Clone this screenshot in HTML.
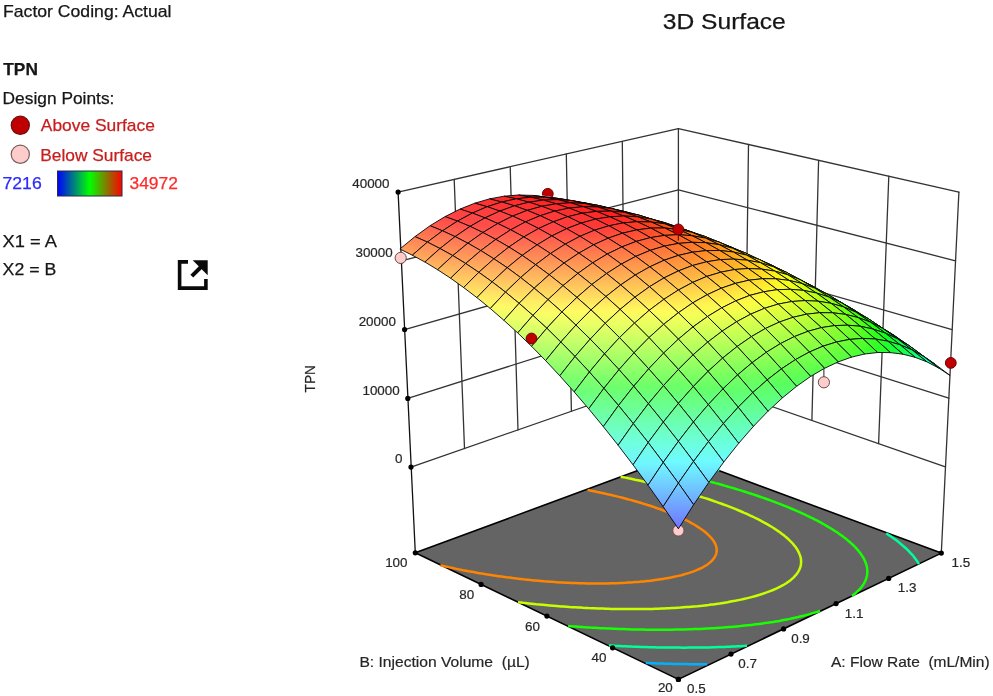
<!DOCTYPE html>
<html><head><meta charset="utf-8"><title>3D Surface</title>
<style>
html,body{margin:0;padding:0;background:#fff;}
body{width:993px;height:696px;position:relative;overflow:hidden;}
svg{position:absolute;left:0;top:0;display:block;}
text{font-family:"Liberation Sans",sans-serif;fill:#161616;white-space:pre;stroke:#161616;stroke-width:.25px;}
.lg{font-size:17px;}
.tk{font-size:13.4px;fill:#262626;stroke:#262626;stroke-width:.2px;}
.ax{font-size:15px;fill:#262626;stroke:#262626;stroke-width:.2px;}
</style></head><body>
<svg width="993" height="696" viewBox="0 0 993 696">
<defs><linearGradient id="lgd" x1="0" x2="1" y1="0" y2="0"><stop offset="0" stop-color="#0000ff"/><stop offset=".5" stop-color="#00ff00"/><stop offset="1" stop-color="#ff0000"/></linearGradient>
<linearGradient id="c1" gradientUnits="userSpaceOnUse" x1="677.0" y1="290.0" x2="679.6" y2="273.9"><stop offset="0" stop-color="#00fffe"/><stop offset="0.5" stop-color="#00ffb7"/><stop offset="1" stop-color="#00ff70"/></linearGradient>
<linearGradient id="c2" gradientUnits="userSpaceOnUse" x1="664.8" y1="275.2" x2="667.2" y2="260.5"><stop offset="0" stop-color="#00ff90"/><stop offset="0.5" stop-color="#00ff4e"/><stop offset="1" stop-color="#00ff0c"/></linearGradient>
<linearGradient id="c3" gradientUnits="userSpaceOnUse" x1="689.3" y1="288.0" x2="692.0" y2="272.8"><stop offset="0" stop-color="#00ffdc"/><stop offset="0.5" stop-color="#00ff98"/><stop offset="1" stop-color="#00ff54"/></linearGradient>
<linearGradient id="c4" gradientUnits="userSpaceOnUse" x1="652.4" y1="261.5" x2="654.5" y2="248.2"><stop offset="0" stop-color="#00ff2a"/><stop offset="0.5" stop-color="#13ff00"/><stop offset="1" stop-color="#4fff00"/></linearGradient>
<linearGradient id="c5" gradientUnits="userSpaceOnUse" x1="677.2" y1="273.5" x2="679.5" y2="259.7"><stop offset="0" stop-color="#00ff70"/><stop offset="0.5" stop-color="#00ff31"/><stop offset="1" stop-color="#0dff00"/></linearGradient>
<linearGradient id="c6" gradientUnits="userSpaceOnUse" x1="701.8" y1="286.7" x2="704.4" y2="272.3"><stop offset="0" stop-color="#00ffbe"/><stop offset="0.5" stop-color="#00ff7d"/><stop offset="1" stop-color="#00ff3c"/></linearGradient>
<linearGradient id="c7" gradientUnits="userSpaceOnUse" x1="639.8" y1="249.0" x2="641.6" y2="237.2"><stop offset="0" stop-color="#34ff00"/><stop offset="0.5" stop-color="#6cff00"/><stop offset="1" stop-color="#a3ff00"/></linearGradient>
<linearGradient id="c8" gradientUnits="userSpaceOnUse" x1="664.8" y1="260.1" x2="666.8" y2="247.7"><stop offset="0" stop-color="#00ff0c"/><stop offset="0.5" stop-color="#2dff00"/><stop offset="1" stop-color="#67ff00"/></linearGradient>
<linearGradient id="c9" gradientUnits="userSpaceOnUse" x1="689.7" y1="272.4" x2="692.0" y2="259.5"><stop offset="0" stop-color="#00ff54"/><stop offset="0.5" stop-color="#00ff18"/><stop offset="1" stop-color="#24ff00"/></linearGradient>
<linearGradient id="c10" gradientUnits="userSpaceOnUse" x1="714.4" y1="285.9" x2="717.0" y2="272.4"><stop offset="0" stop-color="#00ffa3"/><stop offset="0.5" stop-color="#00ff65"/><stop offset="1" stop-color="#00ff27"/></linearGradient>
<linearGradient id="c11" gradientUnits="userSpaceOnUse" x1="627.0" y1="237.6" x2="628.5" y2="227.4"><stop offset="0" stop-color="#8aff00"/><stop offset="0.5" stop-color="#bcff00"/><stop offset="1" stop-color="#eeff00"/></linearGradient>
<linearGradient id="c12" gradientUnits="userSpaceOnUse" x1="652.2" y1="247.8" x2="654.0" y2="237.0"><stop offset="0" stop-color="#4fff00"/><stop offset="0.5" stop-color="#84ff00"/><stop offset="1" stop-color="#b8ff00"/></linearGradient>
<linearGradient id="c13" gradientUnits="userSpaceOnUse" x1="677.3" y1="259.3" x2="679.4" y2="247.8"><stop offset="0" stop-color="#0dff00"/><stop offset="0.5" stop-color="#44ff00"/><stop offset="1" stop-color="#7bff00"/></linearGradient>
<linearGradient id="c14" gradientUnits="userSpaceOnUse" x1="702.3" y1="271.9" x2="704.6" y2="259.9"><stop offset="0" stop-color="#00ff3c"/><stop offset="0.5" stop-color="#00ff03"/><stop offset="1" stop-color="#36ff00"/></linearGradient>
<linearGradient id="c15" gradientUnits="userSpaceOnUse" x1="727.2" y1="285.7" x2="729.8" y2="273.2"><stop offset="0" stop-color="#00ff8d"/><stop offset="0.5" stop-color="#00ff51"/><stop offset="1" stop-color="#00ff16"/></linearGradient>
<linearGradient id="c16" gradientUnits="userSpaceOnUse" x1="613.9" y1="227.6" x2="615.2" y2="218.9"><stop offset="0" stop-color="#d8ff00"/><stop offset="0.5" stop-color="#fff900"/><stop offset="1" stop-color="#ffcc00"/></linearGradient>
<linearGradient id="c17" gradientUnits="userSpaceOnUse" x1="639.4" y1="236.8" x2="640.9" y2="227.5"><stop offset="0" stop-color="#a3ff00"/><stop offset="0.5" stop-color="#d2ff00"/><stop offset="1" stop-color="#fffc00"/></linearGradient>
<linearGradient id="c18" gradientUnits="userSpaceOnUse" x1="664.8" y1="247.3" x2="666.5" y2="237.4"><stop offset="0" stop-color="#67ff00"/><stop offset="0.5" stop-color="#98ff00"/><stop offset="1" stop-color="#caff00"/></linearGradient>
<linearGradient id="c19" gradientUnits="userSpaceOnUse" x1="690.0" y1="259.1" x2="692.0" y2="248.6"><stop offset="0" stop-color="#24ff00"/><stop offset="0.5" stop-color="#57ff00"/><stop offset="1" stop-color="#8bff00"/></linearGradient>
<linearGradient id="c20" gradientUnits="userSpaceOnUse" x1="715.2" y1="272.1" x2="717.4" y2="261.0"><stop offset="0" stop-color="#00ff27"/><stop offset="0.5" stop-color="#0fff00"/><stop offset="1" stop-color="#45ff00"/></linearGradient>
<linearGradient id="c21" gradientUnits="userSpaceOnUse" x1="740.2" y1="286.2" x2="742.7" y2="274.6"><stop offset="0" stop-color="#00ff79"/><stop offset="0.5" stop-color="#00ff41"/><stop offset="1" stop-color="#00ff09"/></linearGradient>
<linearGradient id="c22" gradientUnits="userSpaceOnUse" x1="600.7" y1="218.7" x2="601.7" y2="211.7"><stop offset="0" stop-color="#ffe100"/><stop offset="0.5" stop-color="#ffb900"/><stop offset="1" stop-color="#ff9100"/></linearGradient>
<linearGradient id="c23" gradientUnits="userSpaceOnUse" x1="626.4" y1="227.1" x2="627.6" y2="219.4"><stop offset="0" stop-color="#eeff00"/><stop offset="0.5" stop-color="#ffe500"/><stop offset="1" stop-color="#ffbb00"/></linearGradient>
<linearGradient id="c24" gradientUnits="userSpaceOnUse" x1="652.0" y1="236.6" x2="653.4" y2="228.3"><stop offset="0" stop-color="#b8ff00"/><stop offset="0.5" stop-color="#e5ff00"/><stop offset="1" stop-color="#ffed00"/></linearGradient>
<linearGradient id="c25" gradientUnits="userSpaceOnUse" x1="677.5" y1="247.5" x2="679.2" y2="238.5"><stop offset="0" stop-color="#7bff00"/><stop offset="0.5" stop-color="#a9ff00"/><stop offset="1" stop-color="#d8ff00"/></linearGradient>
<linearGradient id="c26" gradientUnits="userSpaceOnUse" x1="702.9" y1="259.5" x2="704.8" y2="250.0"><stop offset="0" stop-color="#36ff00"/><stop offset="0.5" stop-color="#67ff00"/><stop offset="1" stop-color="#98ff00"/></linearGradient>
<linearGradient id="c27" gradientUnits="userSpaceOnUse" x1="728.1" y1="272.8" x2="730.4" y2="262.7"><stop offset="0" stop-color="#00ff16"/><stop offset="0.5" stop-color="#1dff00"/><stop offset="1" stop-color="#50ff00"/></linearGradient>
<linearGradient id="c28" gradientUnits="userSpaceOnUse" x1="753.3" y1="287.3" x2="755.7" y2="276.6"><stop offset="0" stop-color="#00ff6a"/><stop offset="0.5" stop-color="#00ff34"/><stop offset="1" stop-color="#01ff00"/></linearGradient>
<linearGradient id="c29" gradientUnits="userSpaceOnUse" x1="587.3" y1="211.3" x2="588.0" y2="206.0"><stop offset="0" stop-color="#ffa300"/><stop offset="0.5" stop-color="#ff8100"/><stop offset="1" stop-color="#ff5e00"/></linearGradient>
<linearGradient id="c30" gradientUnits="userSpaceOnUse" x1="613.2" y1="218.6" x2="614.1" y2="212.6"><stop offset="0" stop-color="#ffcc00"/><stop offset="0.5" stop-color="#ffa700"/><stop offset="1" stop-color="#ff8300"/></linearGradient>
<linearGradient id="c31" gradientUnits="userSpaceOnUse" x1="639.0" y1="227.2" x2="640.2" y2="220.5"><stop offset="0" stop-color="#fffc00"/><stop offset="0.5" stop-color="#ffd500"/><stop offset="1" stop-color="#ffae00"/></linearGradient>
<linearGradient id="c32" gradientUnits="userSpaceOnUse" x1="664.7" y1="237.1" x2="666.2" y2="229.8"><stop offset="0" stop-color="#caff00"/><stop offset="0.5" stop-color="#f3ff00"/><stop offset="1" stop-color="#ffe100"/></linearGradient>
<linearGradient id="c33" gradientUnits="userSpaceOnUse" x1="690.4" y1="248.2" x2="692.0" y2="240.3"><stop offset="0" stop-color="#8bff00"/><stop offset="0.5" stop-color="#b7ff00"/><stop offset="1" stop-color="#e2ff00"/></linearGradient>
<linearGradient id="c34" gradientUnits="userSpaceOnUse" x1="715.9" y1="260.6" x2="717.8" y2="252.1"><stop offset="0" stop-color="#45ff00"/><stop offset="0.5" stop-color="#73ff00"/><stop offset="1" stop-color="#a0ff00"/></linearGradient>
<linearGradient id="c35" gradientUnits="userSpaceOnUse" x1="741.3" y1="274.3" x2="743.4" y2="265.1"><stop offset="0" stop-color="#00ff09"/><stop offset="0.5" stop-color="#27ff00"/><stop offset="1" stop-color="#57ff00"/></linearGradient>
<linearGradient id="c36" gradientUnits="userSpaceOnUse" x1="766.5" y1="289.1" x2="768.9" y2="279.4"><stop offset="0" stop-color="#00ff5e"/><stop offset="0.5" stop-color="#00ff2b"/><stop offset="1" stop-color="#07ff00"/></linearGradient>
<linearGradient id="c37" gradientUnits="userSpaceOnUse" x1="573.7" y1="205.1" x2="574.2" y2="201.6"><stop offset="0" stop-color="#ff6e00"/><stop offset="0.5" stop-color="#ff5100"/><stop offset="1" stop-color="#ff3300"/></linearGradient>
<linearGradient id="c38" gradientUnits="userSpaceOnUse" x1="599.8" y1="211.4" x2="600.5" y2="207.2"><stop offset="0" stop-color="#ff9100"/><stop offset="0.5" stop-color="#ff7100"/><stop offset="1" stop-color="#ff5200"/></linearGradient>
<linearGradient id="c39" gradientUnits="userSpaceOnUse" x1="625.8" y1="219.1" x2="626.7" y2="214.1"><stop offset="0" stop-color="#ffbb00"/><stop offset="0.5" stop-color="#ff9a00"/><stop offset="1" stop-color="#ff7800"/></linearGradient>
<linearGradient id="c40" gradientUnits="userSpaceOnUse" x1="651.8" y1="228.0" x2="652.9" y2="222.4"><stop offset="0" stop-color="#ffed00"/><stop offset="0.5" stop-color="#ffc900"/><stop offset="1" stop-color="#ffa500"/></linearGradient>
<linearGradient id="c41" gradientUnits="userSpaceOnUse" x1="677.7" y1="238.2" x2="679.0" y2="231.9"><stop offset="0" stop-color="#d8ff00"/><stop offset="0.5" stop-color="#feff00"/><stop offset="1" stop-color="#ffd900"/></linearGradient>
<linearGradient id="c42" gradientUnits="userSpaceOnUse" x1="703.4" y1="249.7" x2="705.0" y2="242.7"><stop offset="0" stop-color="#98ff00"/><stop offset="0.5" stop-color="#c0ff00"/><stop offset="1" stop-color="#e9ff00"/></linearGradient>
<linearGradient id="c43" gradientUnits="userSpaceOnUse" x1="729.1" y1="262.4" x2="730.9" y2="254.8"><stop offset="0" stop-color="#50ff00"/><stop offset="0.5" stop-color="#7bff00"/><stop offset="1" stop-color="#a6ff00"/></linearGradient>
<linearGradient id="c44" gradientUnits="userSpaceOnUse" x1="754.6" y1="276.3" x2="756.7" y2="268.2"><stop offset="0" stop-color="#01ff00"/><stop offset="0.5" stop-color="#2eff00"/><stop offset="1" stop-color="#5bff00"/></linearGradient>
<linearGradient id="c45" gradientUnits="userSpaceOnUse" x1="779.9" y1="291.5" x2="782.3" y2="282.7"><stop offset="0" stop-color="#00ff55"/><stop offset="0.5" stop-color="#00ff26"/><stop offset="1" stop-color="#0aff00"/></linearGradient>
<linearGradient id="c46" gradientUnits="userSpaceOnUse" x1="559.9" y1="200.4" x2="560.2" y2="198.6"><stop offset="0" stop-color="#ff4201"/><stop offset="0.5" stop-color="#ff2901"/><stop offset="1" stop-color="#ff1101"/></linearGradient>
<linearGradient id="c47" gradientUnits="userSpaceOnUse" x1="586.2" y1="205.7" x2="586.6" y2="203.2"><stop offset="0" stop-color="#ff5e00"/><stop offset="0.5" stop-color="#ff4400"/><stop offset="1" stop-color="#ff2900"/></linearGradient>
<linearGradient id="c48" gradientUnits="userSpaceOnUse" x1="612.5" y1="212.3" x2="613.1" y2="209.1"><stop offset="0" stop-color="#ff8300"/><stop offset="0.5" stop-color="#ff6600"/><stop offset="1" stop-color="#ff4900"/></linearGradient>
<linearGradient id="c49" gradientUnits="userSpaceOnUse" x1="638.7" y1="220.2" x2="639.4" y2="216.3"><stop offset="0" stop-color="#ffae00"/><stop offset="0.5" stop-color="#ff8f00"/><stop offset="1" stop-color="#ff7000"/></linearGradient>
<linearGradient id="c50" gradientUnits="userSpaceOnUse" x1="664.8" y1="229.5" x2="665.8" y2="224.9"><stop offset="0" stop-color="#ffe100"/><stop offset="0.5" stop-color="#ffc000"/><stop offset="1" stop-color="#ff9f00"/></linearGradient>
<linearGradient id="c51" gradientUnits="userSpaceOnUse" x1="690.8" y1="240.0" x2="692.0" y2="234.7"><stop offset="0" stop-color="#e2ff00"/><stop offset="0.5" stop-color="#fff800"/><stop offset="1" stop-color="#ffd500"/></linearGradient>
<linearGradient id="c52" gradientUnits="userSpaceOnUse" x1="716.7" y1="251.8" x2="718.2" y2="245.9"><stop offset="0" stop-color="#a0ff00"/><stop offset="0.5" stop-color="#c6ff00"/><stop offset="1" stop-color="#ecff00"/></linearGradient>
<linearGradient id="c53" gradientUnits="userSpaceOnUse" x1="742.4" y1="264.8" x2="744.2" y2="258.3"><stop offset="0" stop-color="#57ff00"/><stop offset="0.5" stop-color="#7fff00"/><stop offset="1" stop-color="#a7ff00"/></linearGradient>
<linearGradient id="c54" gradientUnits="userSpaceOnUse" x1="768.0" y1="279.1" x2="770.0" y2="271.9"><stop offset="0" stop-color="#07ff00"/><stop offset="0.5" stop-color="#31ff00"/><stop offset="1" stop-color="#5cff00"/></linearGradient>
<linearGradient id="c55" gradientUnits="userSpaceOnUse" x1="793.5" y1="294.6" x2="795.8" y2="286.7"><stop offset="0" stop-color="#00ff51"/><stop offset="0.5" stop-color="#00ff23"/><stop offset="1" stop-color="#0aff00"/></linearGradient>
<linearGradient id="c56" gradientUnits="userSpaceOnUse" x1="546.1" y1="196.6" x2="545.9" y2="197.6"><stop offset="0" stop-color="#ff250a"/><stop offset="0.5" stop-color="#ff130a"/><stop offset="1" stop-color="#ff0a0a"/></linearGradient>
<linearGradient id="c57" gradientUnits="userSpaceOnUse" x1="572.5" y1="201.4" x2="572.6" y2="200.6"><stop offset="0" stop-color="#ff3705"/><stop offset="0.5" stop-color="#ff2205"/><stop offset="1" stop-color="#ff0d05"/></linearGradient>
<linearGradient id="c58" gradientUnits="userSpaceOnUse" x1="598.9" y1="206.9" x2="599.2" y2="205.5"><stop offset="0" stop-color="#ff5200"/><stop offset="0.5" stop-color="#ff3a00"/><stop offset="1" stop-color="#ff2300"/></linearGradient>
<linearGradient id="c59" gradientUnits="userSpaceOnUse" x1="625.3" y1="213.9" x2="625.8" y2="211.7"><stop offset="0" stop-color="#ff7800"/><stop offset="0.5" stop-color="#ff5e00"/><stop offset="1" stop-color="#ff4400"/></linearGradient>
<linearGradient id="c60" gradientUnits="userSpaceOnUse" x1="651.7" y1="222.1" x2="652.3" y2="219.2"><stop offset="0" stop-color="#ffa500"/><stop offset="0.5" stop-color="#ff8900"/><stop offset="1" stop-color="#ff6d00"/></linearGradient>
<linearGradient id="c61" gradientUnits="userSpaceOnUse" x1="677.9" y1="231.6" x2="678.8" y2="228.1"><stop offset="0" stop-color="#ffd900"/><stop offset="0.5" stop-color="#ffbb00"/><stop offset="1" stop-color="#ff9d00"/></linearGradient>
<linearGradient id="c62" gradientUnits="userSpaceOnUse" x1="704.0" y1="242.5" x2="705.2" y2="238.2"><stop offset="0" stop-color="#e9ff00"/><stop offset="0.5" stop-color="#fff500"/><stop offset="1" stop-color="#ffd400"/></linearGradient>
<linearGradient id="c63" gradientUnits="userSpaceOnUse" x1="730.1" y1="254.6" x2="731.4" y2="249.6"><stop offset="0" stop-color="#a6ff00"/><stop offset="0.5" stop-color="#c9ff00"/><stop offset="1" stop-color="#ecff00"/></linearGradient>
<linearGradient id="c64" gradientUnits="userSpaceOnUse" x1="755.9" y1="268.0" x2="757.6" y2="262.2"><stop offset="0" stop-color="#5bff00"/><stop offset="0.5" stop-color="#81ff00"/><stop offset="1" stop-color="#a7ff00"/></linearGradient>
<linearGradient id="c65" gradientUnits="userSpaceOnUse" x1="781.6" y1="282.7" x2="783.6" y2="276.1"><stop offset="0" stop-color="#08ff00"/><stop offset="0.5" stop-color="#32ff00"/><stop offset="1" stop-color="#5cff00"/></linearGradient>
<linearGradient id="c66" gradientUnits="userSpaceOnUse" x1="807.1" y1="298.6" x2="809.4" y2="291.2"><stop offset="0" stop-color="#00ff52"/><stop offset="0.5" stop-color="#00ff25"/><stop offset="1" stop-color="#08ff00"/></linearGradient>
<linearGradient id="c67" gradientUnits="userSpaceOnUse" x1="531.9" y1="195.1" x2="531.7" y2="197.2"><stop offset="0" stop-color="#ff1414"/><stop offset="0.5" stop-color="#ff1414"/><stop offset="1" stop-color="#ff1414"/></linearGradient>
<linearGradient id="c68" gradientUnits="userSpaceOnUse" x1="558.6" y1="198.3" x2="558.4" y2="199.6"><stop offset="0" stop-color="#ff1e0e"/><stop offset="0.5" stop-color="#ff0f0e"/><stop offset="1" stop-color="#ff0e0e"/></linearGradient>
<linearGradient id="c69" gradientUnits="userSpaceOnUse" x1="585.3" y1="202.8" x2="585.1" y2="203.5"><stop offset="0" stop-color="#ff3109"/><stop offset="0.5" stop-color="#ff1f09"/><stop offset="1" stop-color="#ff0d09"/></linearGradient>
<linearGradient id="c70" gradientUnits="userSpaceOnUse" x1="611.8" y1="209.0" x2="611.9" y2="208.4"><stop offset="0" stop-color="#ff4c04"/><stop offset="0.5" stop-color="#ff3704"/><stop offset="1" stop-color="#ff2304"/></linearGradient>
<linearGradient id="c71" gradientUnits="userSpaceOnUse" x1="638.4" y1="216.1" x2="638.7" y2="215.0"><stop offset="0" stop-color="#ff7000"/><stop offset="0.5" stop-color="#ff5a00"/><stop offset="1" stop-color="#ff4300"/></linearGradient>
<linearGradient id="c72" gradientUnits="userSpaceOnUse" x1="664.9" y1="224.7" x2="665.3" y2="222.8"><stop offset="0" stop-color="#ff9f00"/><stop offset="0.5" stop-color="#ff8600"/><stop offset="1" stop-color="#ff6d00"/></linearGradient>
<linearGradient id="c73" gradientUnits="userSpaceOnUse" x1="691.2" y1="234.5" x2="692.0" y2="231.9"><stop offset="0" stop-color="#ffd500"/><stop offset="0.5" stop-color="#ffb900"/><stop offset="1" stop-color="#ff9d00"/></linearGradient>
<linearGradient id="c74" gradientUnits="userSpaceOnUse" x1="717.5" y1="245.7" x2="718.5" y2="242.3"><stop offset="0" stop-color="#ebff00"/><stop offset="0.5" stop-color="#fff300"/><stop offset="1" stop-color="#ffd400"/></linearGradient>
<linearGradient id="c75" gradientUnits="userSpaceOnUse" x1="743.6" y1="258.2" x2="744.9" y2="253.9"><stop offset="0" stop-color="#a5ff00"/><stop offset="0.5" stop-color="#c8ff00"/><stop offset="1" stop-color="#ebff00"/></linearGradient>
<linearGradient id="c76" gradientUnits="userSpaceOnUse" x1="769.5" y1="272.0" x2="771.2" y2="266.8"><stop offset="0" stop-color="#58ff00"/><stop offset="0.5" stop-color="#7fff00"/><stop offset="1" stop-color="#a5ff00"/></linearGradient>
<linearGradient id="c77" gradientUnits="userSpaceOnUse" x1="795.3" y1="287.1" x2="797.3" y2="281.0"><stop offset="0" stop-color="#04ff00"/><stop offset="0.5" stop-color="#2eff00"/><stop offset="1" stop-color="#58ff00"/></linearGradient>
<linearGradient id="c78" gradientUnits="userSpaceOnUse" x1="820.9" y1="303.3" x2="823.3" y2="296.4"><stop offset="0" stop-color="#00ff58"/><stop offset="0.5" stop-color="#00ff2a"/><stop offset="1" stop-color="#04ff00"/></linearGradient>
<linearGradient id="c79" gradientUnits="userSpaceOnUse" x1="517.6" y1="194.7" x2="517.3" y2="198.7"><stop offset="0" stop-color="#ff1e1e"/><stop offset="0.5" stop-color="#ff1e1e"/><stop offset="1" stop-color="#ff1e1e"/></linearGradient>
<linearGradient id="c80" gradientUnits="userSpaceOnUse" x1="544.6" y1="196.8" x2="544.0" y2="200.1"><stop offset="0" stop-color="#ff1818"/><stop offset="0.5" stop-color="#ff1818"/><stop offset="1" stop-color="#ff1818"/></linearGradient>
<linearGradient id="c81" gradientUnits="userSpaceOnUse" x1="571.4" y1="200.4" x2="570.9" y2="202.8"><stop offset="0" stop-color="#ff1a12"/><stop offset="0.5" stop-color="#ff1212"/><stop offset="1" stop-color="#ff1212"/></linearGradient>
<linearGradient id="c82" gradientUnits="userSpaceOnUse" x1="598.2" y1="205.2" x2="597.8" y2="206.8"><stop offset="0" stop-color="#ff2e0d"/><stop offset="0.5" stop-color="#ff1f0d"/><stop offset="1" stop-color="#ff110d"/></linearGradient>
<linearGradient id="c83" gradientUnits="userSpaceOnUse" x1="625.0" y1="211.4" x2="624.7" y2="212.3"><stop offset="0" stop-color="#ff4a08"/><stop offset="0.5" stop-color="#ff3808"/><stop offset="1" stop-color="#ff2708"/></linearGradient>
<linearGradient id="c84" gradientUnits="userSpaceOnUse" x1="651.4" y1="220.1" x2="651.9" y2="217.9"><stop offset="0" stop-color="#ff6e03"/><stop offset="0.5" stop-color="#ff5903"/><stop offset="1" stop-color="#ff4503"/></linearGradient>
<linearGradient id="c85" gradientUnits="userSpaceOnUse" x1="678.2" y1="228.0" x2="678.5" y2="227.0"><stop offset="0" stop-color="#ff9e00"/><stop offset="0.5" stop-color="#ff8500"/><stop offset="1" stop-color="#ff6d00"/></linearGradient>
<linearGradient id="c86" gradientUnits="userSpaceOnUse" x1="704.7" y1="238.2" x2="705.3" y2="236.4"><stop offset="0" stop-color="#ffd700"/><stop offset="0.5" stop-color="#ffba00"/><stop offset="1" stop-color="#ff9e00"/></linearGradient>
<linearGradient id="c87" gradientUnits="userSpaceOnUse" x1="731.0" y1="249.7" x2="731.9" y2="247.1"><stop offset="0" stop-color="#e7ff00"/><stop offset="0.5" stop-color="#fff700"/><stop offset="1" stop-color="#ffd700"/></linearGradient>
<linearGradient id="c88" gradientUnits="userSpaceOnUse" x1="757.2" y1="262.6" x2="758.5" y2="259.0"><stop offset="0" stop-color="#a0ff00"/><stop offset="0.5" stop-color="#c4ff00"/><stop offset="1" stop-color="#e7ff00"/></linearGradient>
<linearGradient id="c89" gradientUnits="userSpaceOnUse" x1="783.3" y1="276.7" x2="784.9" y2="272.2"><stop offset="0" stop-color="#51ff00"/><stop offset="0.5" stop-color="#79ff00"/><stop offset="1" stop-color="#a0ff00"/></linearGradient>
<linearGradient id="c90" gradientUnits="userSpaceOnUse" x1="809.2" y1="292.1" x2="811.1" y2="286.7"><stop offset="0" stop-color="#00ff05"/><stop offset="0.5" stop-color="#26ff00"/><stop offset="1" stop-color="#51ff00"/></linearGradient>
<linearGradient id="c91" gradientUnits="userSpaceOnUse" x1="834.8" y1="308.7" x2="837.2" y2="302.4"><stop offset="0" stop-color="#00ff62"/><stop offset="0.5" stop-color="#00ff33"/><stop offset="1" stop-color="#00ff05"/></linearGradient>
<linearGradient id="c92" gradientUnits="userSpaceOnUse" x1="502.9" y1="195.6" x2="503.0" y2="201.4"><stop offset="0" stop-color="#ff2727"/><stop offset="0.5" stop-color="#ff2727"/><stop offset="1" stop-color="#ff2727"/></linearGradient>
<linearGradient id="c93" gradientUnits="userSpaceOnUse" x1="530.4" y1="196.7" x2="529.5" y2="201.9"><stop offset="0" stop-color="#ff2222"/><stop offset="0.5" stop-color="#ff2222"/><stop offset="1" stop-color="#ff2222"/></linearGradient>
<linearGradient id="c94" gradientUnits="userSpaceOnUse" x1="557.5" y1="199.3" x2="556.4" y2="203.7"><stop offset="0" stop-color="#ff1c1c"/><stop offset="0.5" stop-color="#ff1c1c"/><stop offset="1" stop-color="#ff1c1c"/></linearGradient>
<linearGradient id="c95" gradientUnits="userSpaceOnUse" x1="584.5" y1="203.1" x2="583.4" y2="206.9"><stop offset="0" stop-color="#ff1b17"/><stop offset="0.5" stop-color="#ff1717"/><stop offset="1" stop-color="#ff1717"/></linearGradient>
<linearGradient id="c96" gradientUnits="userSpaceOnUse" x1="611.5" y1="208.2" x2="610.5" y2="211.2"><stop offset="0" stop-color="#ff3011"/><stop offset="0.5" stop-color="#ff2211"/><stop offset="1" stop-color="#ff1511"/></linearGradient>
<linearGradient id="c97" gradientUnits="userSpaceOnUse" x1="638.4" y1="214.7" x2="637.6" y2="216.9"><stop offset="0" stop-color="#ff4e0c"/><stop offset="0.5" stop-color="#ff3c0c"/><stop offset="1" stop-color="#ff2b0c"/></linearGradient>
<linearGradient id="c98" gradientUnits="userSpaceOnUse" x1="665.2" y1="222.6" x2="664.7" y2="223.9"><stop offset="0" stop-color="#ff7407"/><stop offset="0.5" stop-color="#ff5f07"/><stop offset="1" stop-color="#ff4a07"/></linearGradient>
<linearGradient id="c99" gradientUnits="userSpaceOnUse" x1="691.9" y1="231.7" x2="691.6" y2="232.4"><stop offset="0" stop-color="#ffa401"/><stop offset="0.5" stop-color="#ff8a01"/><stop offset="1" stop-color="#ff7101"/></linearGradient>
<linearGradient id="c100" gradientUnits="userSpaceOnUse" x1="718.4" y1="242.6" x2="718.7" y2="241.7"><stop offset="0" stop-color="#ffdd00"/><stop offset="0.5" stop-color="#ffc000"/><stop offset="1" stop-color="#ffa300"/></linearGradient>
<linearGradient id="c101" gradientUnits="userSpaceOnUse" x1="744.8" y1="254.4" x2="745.5" y2="252.7"><stop offset="0" stop-color="#dfff00"/><stop offset="0.5" stop-color="#fffe00"/><stop offset="1" stop-color="#ffdd00"/></linearGradient>
<linearGradient id="c102" gradientUnits="userSpaceOnUse" x1="771.1" y1="267.6" x2="772.2" y2="264.9"><stop offset="0" stop-color="#97ff00"/><stop offset="0.5" stop-color="#bbff00"/><stop offset="1" stop-color="#dfff00"/></linearGradient>
<linearGradient id="c103" gradientUnits="userSpaceOnUse" x1="797.2" y1="282.1" x2="798.7" y2="278.4"><stop offset="0" stop-color="#47ff00"/><stop offset="0.5" stop-color="#6fff00"/><stop offset="1" stop-color="#97ff00"/></linearGradient>
<linearGradient id="c104" gradientUnits="userSpaceOnUse" x1="823.2" y1="297.8" x2="825.0" y2="293.2"><stop offset="0" stop-color="#00ff11"/><stop offset="0.5" stop-color="#1bff00"/><stop offset="1" stop-color="#47ff00"/></linearGradient>
<linearGradient id="c105" gradientUnits="userSpaceOnUse" x1="848.9" y1="314.8" x2="851.2" y2="309.2"><stop offset="0" stop-color="#00ff6f"/><stop offset="0.5" stop-color="#00ff40"/><stop offset="1" stop-color="#00ff11"/></linearGradient>
<linearGradient id="c106" gradientUnits="userSpaceOnUse" x1="485.5" y1="207.8" x2="492.3" y2="195.4"><stop offset="0" stop-color="#ff3131"/><stop offset="0.5" stop-color="#ff3131"/><stop offset="1" stop-color="#ff3131"/></linearGradient>
<linearGradient id="c107" gradientUnits="userSpaceOnUse" x1="544.3" y1="199.3" x2="540.4" y2="208.1"><stop offset="0" stop-color="#ff2626"/><stop offset="0.5" stop-color="#ff2626"/><stop offset="1" stop-color="#ff2626"/></linearGradient>
<linearGradient id="c108" gradientUnits="userSpaceOnUse" x1="571.4" y1="201.8" x2="567.9" y2="209.5"><stop offset="0" stop-color="#ff2020"/><stop offset="0.5" stop-color="#ff2020"/><stop offset="1" stop-color="#ff2020"/></linearGradient>
<linearGradient id="c109" gradientUnits="userSpaceOnUse" x1="598.4" y1="205.9" x2="595.4" y2="212.5"><stop offset="0" stop-color="#ff211b"/><stop offset="0.5" stop-color="#ff1b1b"/><stop offset="1" stop-color="#ff1b1b"/></linearGradient>
<linearGradient id="c110" gradientUnits="userSpaceOnUse" x1="625.3" y1="211.4" x2="622.9" y2="216.8"><stop offset="0" stop-color="#ff3715"/><stop offset="0.5" stop-color="#ff2a15"/><stop offset="1" stop-color="#ff1c15"/></linearGradient>
<linearGradient id="c111" gradientUnits="userSpaceOnUse" x1="652.2" y1="218.4" x2="650.3" y2="222.6"><stop offset="0" stop-color="#ff5610"/><stop offset="0.5" stop-color="#ff4410"/><stop offset="1" stop-color="#ff3310"/></linearGradient>
<linearGradient id="c112" gradientUnits="userSpaceOnUse" x1="679.0" y1="226.7" x2="677.7" y2="229.7"><stop offset="0" stop-color="#ff7d0a"/><stop offset="0.5" stop-color="#ff680a"/><stop offset="1" stop-color="#ff520a"/></linearGradient>
<linearGradient id="c113" gradientUnits="userSpaceOnUse" x1="705.7" y1="236.3" x2="704.9" y2="238.2"><stop offset="0" stop-color="#ffae05"/><stop offset="0.5" stop-color="#ff9405"/><stop offset="1" stop-color="#ff7b05"/></linearGradient>
<linearGradient id="c114" gradientUnits="userSpaceOnUse" x1="732.4" y1="247.3" x2="732.0" y2="248.1"><stop offset="0" stop-color="#ffe700"/><stop offset="0.5" stop-color="#ffca00"/><stop offset="1" stop-color="#ffac00"/></linearGradient>
<linearGradient id="c115" gradientUnits="userSpaceOnUse" x1="758.8" y1="259.8" x2="759.1" y2="259.0"><stop offset="0" stop-color="#d4ff00"/><stop offset="0.5" stop-color="#f5ff00"/><stop offset="1" stop-color="#ffe700"/></linearGradient>
<linearGradient id="c116" gradientUnits="userSpaceOnUse" x1="785.2" y1="273.3" x2="785.9" y2="271.6"><stop offset="0" stop-color="#8aff00"/><stop offset="0.5" stop-color="#afff00"/><stop offset="1" stop-color="#d4ff00"/></linearGradient>
<linearGradient id="c117" gradientUnits="userSpaceOnUse" x1="811.4" y1="288.1" x2="812.6" y2="285.4"><stop offset="0" stop-color="#38ff00"/><stop offset="0.5" stop-color="#61ff00"/><stop offset="1" stop-color="#8aff00"/></linearGradient>
<linearGradient id="c118" gradientUnits="userSpaceOnUse" x1="837.4" y1="304.2" x2="839.1" y2="300.4"><stop offset="0" stop-color="#00ff20"/><stop offset="0.5" stop-color="#0cff00"/><stop offset="1" stop-color="#38ff00"/></linearGradient>
<linearGradient id="c119" gradientUnits="userSpaceOnUse" x1="863.2" y1="321.5" x2="865.3" y2="316.7"><stop offset="0" stop-color="#00ff81"/><stop offset="0.5" stop-color="#00ff51"/><stop offset="1" stop-color="#00ff20"/></linearGradient>
<linearGradient id="c120" gradientUnits="userSpaceOnUse" x1="472.2" y1="213.4" x2="474.8" y2="203.3"><stop offset="0" stop-color="#ff3a3a"/><stop offset="0.5" stop-color="#ff3a3a"/><stop offset="1" stop-color="#ff3a3a"/></linearGradient>
<linearGradient id="c121" gradientUnits="userSpaceOnUse" x1="500.1" y1="211.5" x2="501.4" y2="202.4"><stop offset="0" stop-color="#ff3535"/><stop offset="0.5" stop-color="#ff3535"/><stop offset="1" stop-color="#ff3535"/></linearGradient>
<linearGradient id="c122" gradientUnits="userSpaceOnUse" x1="528.7" y1="210.9" x2="527.8" y2="203.2"><stop offset="0" stop-color="#ff3030"/><stop offset="0.5" stop-color="#ff3030"/><stop offset="1" stop-color="#ff3030"/></linearGradient>
<linearGradient id="c123" gradientUnits="userSpaceOnUse" x1="566.4" y1="211.3" x2="541.7" y2="202.3"><stop offset="0" stop-color="#ff2a2a"/><stop offset="0.5" stop-color="#ff2a2a"/><stop offset="1" stop-color="#ff2a2a"/></linearGradient>
<linearGradient id="c124" gradientUnits="userSpaceOnUse" x1="590.4" y1="204.3" x2="574.2" y2="216.2"><stop offset="0" stop-color="#ff2525"/><stop offset="0.5" stop-color="#ff2525"/><stop offset="1" stop-color="#ff2525"/></linearGradient>
<linearGradient id="c125" gradientUnits="userSpaceOnUse" x1="614.5" y1="208.7" x2="605.5" y2="219.4"><stop offset="0" stop-color="#ff2b1f"/><stop offset="0.5" stop-color="#ff201f"/><stop offset="1" stop-color="#ff1f1f"/></linearGradient>
<linearGradient id="c126" gradientUnits="userSpaceOnUse" x1="640.4" y1="214.9" x2="634.4" y2="223.6"><stop offset="0" stop-color="#ff4219"/><stop offset="0.5" stop-color="#ff3419"/><stop offset="1" stop-color="#ff2619"/></linearGradient>
<linearGradient id="c127" gradientUnits="userSpaceOnUse" x1="666.8" y1="222.5" x2="662.6" y2="229.3"><stop offset="0" stop-color="#ff6214"/><stop offset="0.5" stop-color="#ff5014"/><stop offset="1" stop-color="#ff3e14"/></linearGradient>
<linearGradient id="c128" gradientUnits="userSpaceOnUse" x1="693.4" y1="231.3" x2="690.4" y2="236.5"><stop offset="0" stop-color="#ff8a0e"/><stop offset="0.5" stop-color="#ff740e"/><stop offset="1" stop-color="#ff5e0e"/></linearGradient>
<linearGradient id="c129" gradientUnits="userSpaceOnUse" x1="720.0" y1="241.4" x2="718.0" y2="245.1"><stop offset="0" stop-color="#ffbb09"/><stop offset="0.5" stop-color="#ffa109"/><stop offset="1" stop-color="#ff8709"/></linearGradient>
<linearGradient id="c130" gradientUnits="userSpaceOnUse" x1="746.6" y1="252.8" x2="745.4" y2="255.2"><stop offset="0" stop-color="#fff504"/><stop offset="0.5" stop-color="#ffd704"/><stop offset="1" stop-color="#ffb904"/></linearGradient>
<linearGradient id="c131" gradientUnits="userSpaceOnUse" x1="773.2" y1="265.5" x2="772.6" y2="266.6"><stop offset="0" stop-color="#c5ff00"/><stop offset="0.5" stop-color="#e7ff00"/><stop offset="1" stop-color="#fff500"/></linearGradient>
<linearGradient id="c132" gradientUnits="userSpaceOnUse" x1="799.4" y1="279.8" x2="799.8" y2="279.0"><stop offset="0" stop-color="#79ff00"/><stop offset="0.5" stop-color="#9fff00"/><stop offset="1" stop-color="#c5ff00"/></linearGradient>
<linearGradient id="c133" gradientUnits="userSpaceOnUse" x1="825.7" y1="294.8" x2="826.5" y2="293.2"><stop offset="0" stop-color="#26ff00"/><stop offset="0.5" stop-color="#50ff00"/><stop offset="1" stop-color="#79ff00"/></linearGradient>
<linearGradient id="c134" gradientUnits="userSpaceOnUse" x1="851.8" y1="311.3" x2="853.1" y2="308.5"><stop offset="0" stop-color="#00ff34"/><stop offset="0.5" stop-color="#00ff07"/><stop offset="1" stop-color="#26ff00"/></linearGradient>
<linearGradient id="c135" gradientUnits="userSpaceOnUse" x1="877.6" y1="328.9" x2="879.5" y2="325.1"><stop offset="0" stop-color="#00ff95"/><stop offset="0.5" stop-color="#00ff65"/><stop offset="1" stop-color="#00ff34"/></linearGradient>
<linearGradient id="c136" gradientUnits="userSpaceOnUse" x1="457.4" y1="221.3" x2="460.0" y2="209.2"><stop offset="0" stop-color="#ff4443"/><stop offset="0.5" stop-color="#ff4343"/><stop offset="1" stop-color="#ff4343"/></linearGradient>
<linearGradient id="c137" gradientUnits="userSpaceOnUse" x1="485.2" y1="218.1" x2="486.9" y2="206.9"><stop offset="0" stop-color="#ff3e3e"/><stop offset="0.5" stop-color="#ff3e3e"/><stop offset="1" stop-color="#ff3e3e"/></linearGradient>
<linearGradient id="c138" gradientUnits="userSpaceOnUse" x1="513.2" y1="216.4" x2="513.8" y2="206.0"><stop offset="0" stop-color="#ff3939"/><stop offset="0.5" stop-color="#ff3939"/><stop offset="1" stop-color="#ff3939"/></linearGradient>
<linearGradient id="c139" gradientUnits="userSpaceOnUse" x1="541.5" y1="215.9" x2="540.6" y2="206.8"><stop offset="0" stop-color="#ff3434"/><stop offset="0.5" stop-color="#ff3434"/><stop offset="1" stop-color="#ff3434"/></linearGradient>
<linearGradient id="c140" gradientUnits="userSpaceOnUse" x1="570.8" y1="217.7" x2="565.6" y2="205.7"><stop offset="0" stop-color="#ff2e2e"/><stop offset="0.5" stop-color="#ff2e2e"/><stop offset="1" stop-color="#ff2e2e"/></linearGradient>
<linearGradient id="c141" gradientUnits="userSpaceOnUse" x1="607.1" y1="220.6" x2="583.5" y2="209.0"><stop offset="0" stop-color="#ff2929"/><stop offset="0.5" stop-color="#ff2929"/><stop offset="1" stop-color="#ff2929"/></linearGradient>
<linearGradient id="c142" gradientUnits="userSpaceOnUse" x1="634.9" y1="215.9" x2="611.0" y2="223.1"><stop offset="0" stop-color="#ff3823"/><stop offset="0.5" stop-color="#ff2d23"/><stop offset="1" stop-color="#ff2323"/></linearGradient>
<linearGradient id="c143" gradientUnits="userSpaceOnUse" x1="658.0" y1="219.7" x2="643.4" y2="230.6"><stop offset="0" stop-color="#ff501e"/><stop offset="0.5" stop-color="#ff411e"/><stop offset="1" stop-color="#ff331e"/></linearGradient>
<linearGradient id="c144" gradientUnits="userSpaceOnUse" x1="682.9" y1="227.2" x2="673.6" y2="236.9"><stop offset="0" stop-color="#ff7018"/><stop offset="0.5" stop-color="#ff5e18"/><stop offset="1" stop-color="#ff4c18"/></linearGradient>
<linearGradient id="c145" gradientUnits="userSpaceOnUse" x1="708.7" y1="236.5" x2="702.5" y2="244.3"><stop offset="0" stop-color="#ff9912"/><stop offset="0.5" stop-color="#ff8312"/><stop offset="1" stop-color="#ff6d12"/></linearGradient>
<linearGradient id="c146" gradientUnits="userSpaceOnUse" x1="735.0" y1="247.1" x2="730.7" y2="253.0"><stop offset="0" stop-color="#ffcb0d"/><stop offset="0.5" stop-color="#ffb10d"/><stop offset="1" stop-color="#ff970d"/></linearGradient>
<linearGradient id="c147" gradientUnits="userSpaceOnUse" x1="761.4" y1="258.9" x2="758.6" y2="263.2"><stop offset="0" stop-color="#f8ff08"/><stop offset="0.5" stop-color="#ffe808"/><stop offset="1" stop-color="#ffca08"/></linearGradient>
<linearGradient id="c148" gradientUnits="userSpaceOnUse" x1="787.8" y1="272.0" x2="786.1" y2="274.8"><stop offset="0" stop-color="#b3ff03"/><stop offset="0.5" stop-color="#d5ff03"/><stop offset="1" stop-color="#f8ff03"/></linearGradient>
<linearGradient id="c149" gradientUnits="userSpaceOnUse" x1="814.2" y1="286.4" x2="813.3" y2="287.8"><stop offset="0" stop-color="#65ff00"/><stop offset="0.5" stop-color="#8bff00"/><stop offset="1" stop-color="#b2ff00"/></linearGradient>
<linearGradient id="c150" gradientUnits="userSpaceOnUse" x1="840.1" y1="302.6" x2="840.7" y2="301.4"><stop offset="0" stop-color="#11ff00"/><stop offset="0.5" stop-color="#3bff00"/><stop offset="1" stop-color="#65ff00"/></linearGradient>
<linearGradient id="c151" gradientUnits="userSpaceOnUse" x1="866.4" y1="319.0" x2="867.2" y2="317.4"><stop offset="0" stop-color="#00ff4b"/><stop offset="0.5" stop-color="#00ff1d"/><stop offset="1" stop-color="#11ff00"/></linearGradient>
<linearGradient id="c152" gradientUnits="userSpaceOnUse" x1="892.2" y1="337.0" x2="893.7" y2="334.3"><stop offset="0" stop-color="#00ffae"/><stop offset="0.5" stop-color="#00ff7c"/><stop offset="1" stop-color="#00ff4b"/></linearGradient>
<linearGradient id="c153" gradientUnits="userSpaceOnUse" x1="442.3" y1="230.9" x2="445.2" y2="216.7"><stop offset="0" stop-color="#ff614a"/><stop offset="0.5" stop-color="#ff554a"/><stop offset="1" stop-color="#ff4a4a"/></linearGradient>
<linearGradient id="c154" gradientUnits="userSpaceOnUse" x1="470.1" y1="226.6" x2="472.3" y2="213.2"><stop offset="0" stop-color="#ff4d46"/><stop offset="0.5" stop-color="#ff4646"/><stop offset="1" stop-color="#ff4646"/></linearGradient>
<linearGradient id="c155" gradientUnits="userSpaceOnUse" x1="498.1" y1="223.7" x2="499.4" y2="211.2"><stop offset="0" stop-color="#ff4242"/><stop offset="0.5" stop-color="#ff4242"/><stop offset="1" stop-color="#ff4242"/></linearGradient>
<linearGradient id="c156" gradientUnits="userSpaceOnUse" x1="526.2" y1="222.1" x2="526.5" y2="210.6"><stop offset="0" stop-color="#ff3d3d"/><stop offset="0.5" stop-color="#ff3d3d"/><stop offset="1" stop-color="#ff3d3d"/></linearGradient>
<linearGradient id="c157" gradientUnits="userSpaceOnUse" x1="554.5" y1="221.9" x2="553.6" y2="211.5"><stop offset="0" stop-color="#ff3838"/><stop offset="0.5" stop-color="#ff3838"/><stop offset="1" stop-color="#ff3838"/></linearGradient>
<linearGradient id="c158" gradientUnits="userSpaceOnUse" x1="583.0" y1="222.9" x2="580.3" y2="213.0"><stop offset="0" stop-color="#ff3232"/><stop offset="0.5" stop-color="#ff3232"/><stop offset="1" stop-color="#ff3232"/></linearGradient>
<linearGradient id="c159" gradientUnits="userSpaceOnUse" x1="614.1" y1="228.4" x2="604.0" y2="213.0"><stop offset="0" stop-color="#ff362d"/><stop offset="0.5" stop-color="#ff2e2d"/><stop offset="1" stop-color="#ff2d2d"/></linearGradient>
<linearGradient id="c160" gradientUnits="userSpaceOnUse" x1="648.7" y1="231.3" x2="624.3" y2="219.5"><stop offset="0" stop-color="#ff4727"/><stop offset="0.5" stop-color="#ff3c27"/><stop offset="1" stop-color="#ff3027"/></linearGradient>
<linearGradient id="c161" gradientUnits="userSpaceOnUse" x1="677.3" y1="230.0" x2="651.0" y2="233.2"><stop offset="0" stop-color="#ff6122"/><stop offset="0.5" stop-color="#ff5222"/><stop offset="1" stop-color="#ff4322"/></linearGradient>
<linearGradient id="c162" gradientUnits="userSpaceOnUse" x1="701.0" y1="234.2" x2="682.7" y2="243.7"><stop offset="0" stop-color="#ff821c"/><stop offset="0.5" stop-color="#ff6f1c"/><stop offset="1" stop-color="#ff5d1c"/></linearGradient>
<linearGradient id="c163" gradientUnits="userSpaceOnUse" x1="725.5" y1="242.7" x2="713.4" y2="252.5"><stop offset="0" stop-color="#ffab16"/><stop offset="0.5" stop-color="#ff9516"/><stop offset="1" stop-color="#ff7f16"/></linearGradient>
<linearGradient id="c164" gradientUnits="userSpaceOnUse" x1="750.9" y1="253.5" x2="742.8" y2="261.7"><stop offset="0" stop-color="#ffde11"/><stop offset="0.5" stop-color="#ffc411"/><stop offset="1" stop-color="#ffa911"/></linearGradient>
<linearGradient id="c165" gradientUnits="userSpaceOnUse" x1="776.8" y1="265.7" x2="771.3" y2="272.1"><stop offset="0" stop-color="#e4ff0c"/><stop offset="0.5" stop-color="#fffc0c"/><stop offset="1" stop-color="#ffdd0c"/></linearGradient>
<linearGradient id="c166" gradientUnits="userSpaceOnUse" x1="802.9" y1="279.2" x2="799.4" y2="283.9"><stop offset="0" stop-color="#9eff07"/><stop offset="0.5" stop-color="#c1ff07"/><stop offset="1" stop-color="#e3ff07"/></linearGradient>
<linearGradient id="c167" gradientUnits="userSpaceOnUse" x1="829.1" y1="294.0" x2="827.0" y2="297.0"><stop offset="0" stop-color="#4fff02"/><stop offset="0.5" stop-color="#75ff02"/><stop offset="1" stop-color="#9cff02"/></linearGradient>
<linearGradient id="c168" gradientUnits="userSpaceOnUse" x1="855.3" y1="310.0" x2="854.2" y2="311.5"><stop offset="0" stop-color="#00ff08"/><stop offset="0.5" stop-color="#22ff00"/><stop offset="1" stop-color="#4dff00"/></linearGradient>
<linearGradient id="c169" gradientUnits="userSpaceOnUse" x1="880.0" y1="331.6" x2="882.6" y2="322.9"><stop offset="0" stop-color="#00ff65"/><stop offset="0.5" stop-color="#00ff37"/><stop offset="1" stop-color="#00ff08"/></linearGradient>
<linearGradient id="c170" gradientUnits="userSpaceOnUse" x1="907.1" y1="345.8" x2="908.0" y2="344.3"><stop offset="0" stop-color="#00ffca"/><stop offset="0.5" stop-color="#00ff98"/><stop offset="1" stop-color="#00ff65"/></linearGradient>
<linearGradient id="c171" gradientUnits="userSpaceOnUse" x1="427.1" y1="242.1" x2="430.4" y2="225.9"><stop offset="0" stop-color="#ff8151"/><stop offset="0.5" stop-color="#ff7251"/><stop offset="1" stop-color="#ff6351"/></linearGradient>
<linearGradient id="c172" gradientUnits="userSpaceOnUse" x1="455.0" y1="236.7" x2="457.5" y2="221.2"><stop offset="0" stop-color="#ff6b4e"/><stop offset="0.5" stop-color="#ff5d4e"/><stop offset="1" stop-color="#ff4f4e"/></linearGradient>
<linearGradient id="c173" gradientUnits="userSpaceOnUse" x1="483.0" y1="232.6" x2="484.8" y2="218.0"><stop offset="0" stop-color="#ff584a"/><stop offset="0.5" stop-color="#ff4c4a"/><stop offset="1" stop-color="#ff4a4a"/></linearGradient>
<linearGradient id="c174" gradientUnits="userSpaceOnUse" x1="511.1" y1="229.9" x2="512.1" y2="216.2"><stop offset="0" stop-color="#ff4a45"/><stop offset="0.5" stop-color="#ff4545"/><stop offset="1" stop-color="#ff4545"/></linearGradient>
<linearGradient id="c175" gradientUnits="userSpaceOnUse" x1="539.3" y1="228.7" x2="539.4" y2="215.8"><stop offset="0" stop-color="#ff4141"/><stop offset="0.5" stop-color="#ff4141"/><stop offset="1" stop-color="#ff4141"/></linearGradient>
<linearGradient id="c176" gradientUnits="userSpaceOnUse" x1="567.7" y1="228.7" x2="566.8" y2="217.0"><stop offset="0" stop-color="#ff3c3b"/><stop offset="0.5" stop-color="#ff3b3b"/><stop offset="1" stop-color="#ff3b3b"/></linearGradient>
<linearGradient id="c177" gradientUnits="userSpaceOnUse" x1="596.2" y1="230.1" x2="594.0" y2="219.7"><stop offset="0" stop-color="#ff3d36"/><stop offset="0.5" stop-color="#ff3636"/><stop offset="1" stop-color="#ff3636"/></linearGradient>
<linearGradient id="c178" gradientUnits="userSpaceOnUse" x1="625.5" y1="234.3" x2="619.9" y2="220.9"><stop offset="0" stop-color="#ff4731"/><stop offset="0.5" stop-color="#ff3e31"/><stop offset="1" stop-color="#ff3631"/></linearGradient>
<linearGradient id="c179" gradientUnits="userSpaceOnUse" x1="657.5" y1="240.9" x2="643.2" y2="224.0"><stop offset="0" stop-color="#ff592b"/><stop offset="0.5" stop-color="#ff4e2b"/><stop offset="1" stop-color="#ff422b"/></linearGradient>
<linearGradient id="c180" gradientUnits="userSpaceOnUse" x1="690.8" y1="244.5" x2="665.1" y2="233.0"><stop offset="0" stop-color="#ff7426"/><stop offset="0.5" stop-color="#ff6426"/><stop offset="1" stop-color="#ff5526"/></linearGradient>
<linearGradient id="c181" gradientUnits="userSpaceOnUse" x1="719.3" y1="245.9" x2="692.1" y2="247.1"><stop offset="0" stop-color="#ff9620"/><stop offset="0.5" stop-color="#ff8320"/><stop offset="1" stop-color="#ff7020"/></linearGradient>
<linearGradient id="c182" gradientUnits="userSpaceOnUse" x1="743.6" y1="251.5" x2="723.1" y2="259.6"><stop offset="0" stop-color="#ffc01a"/><stop offset="0.5" stop-color="#ffaa1a"/><stop offset="1" stop-color="#ff931a"/></linearGradient>
<linearGradient id="c183" gradientUnits="userSpaceOnUse" x1="768.0" y1="261.2" x2="753.9" y2="270.5"><stop offset="0" stop-color="#fff415"/><stop offset="0.5" stop-color="#ffd915"/><stop offset="1" stop-color="#ffbf15"/></linearGradient>
<linearGradient id="c184" gradientUnits="userSpaceOnUse" x1="793.1" y1="273.4" x2="783.5" y2="281.6"><stop offset="0" stop-color="#cdff10"/><stop offset="0.5" stop-color="#ecff10"/><stop offset="1" stop-color="#fff410"/></linearGradient>
<linearGradient id="c185" gradientUnits="userSpaceOnUse" x1="818.7" y1="287.2" x2="812.2" y2="293.8"><stop offset="0" stop-color="#87ff0a"/><stop offset="0.5" stop-color="#a9ff0a"/><stop offset="1" stop-color="#ccff0a"/></linearGradient>
<linearGradient id="c186" gradientUnits="userSpaceOnUse" x1="844.6" y1="302.3" x2="840.3" y2="307.2"><stop offset="0" stop-color="#36ff06"/><stop offset="0.5" stop-color="#5dff06"/><stop offset="1" stop-color="#84ff06"/></linearGradient>
<linearGradient id="c187" gradientUnits="userSpaceOnUse" x1="870.6" y1="318.7" x2="868.0" y2="321.9"><stop offset="0" stop-color="#01ff26"/><stop offset="0.5" stop-color="#07ff01"/><stop offset="1" stop-color="#32ff01"/></linearGradient>
<linearGradient id="c188" gradientUnits="userSpaceOnUse" x1="896.5" y1="336.3" x2="895.2" y2="338.0"><stop offset="0" stop-color="#00ff84"/><stop offset="0.5" stop-color="#00ff54"/><stop offset="1" stop-color="#00ff25"/></linearGradient>
<linearGradient id="c189" gradientUnits="userSpaceOnUse" x1="923.1" y1="354.1" x2="921.3" y2="356.3"><stop offset="0" stop-color="#00ffe9"/><stop offset="0.5" stop-color="#00ffb6"/><stop offset="1" stop-color="#00ff84"/></linearGradient>
<linearGradient id="c190" gradientUnits="userSpaceOnUse" x1="411.8" y1="255.1" x2="415.5" y2="236.7"><stop offset="0" stop-color="#ffa558"/><stop offset="0.5" stop-color="#ff9258"/><stop offset="1" stop-color="#ff8058"/></linearGradient>
<linearGradient id="c191" gradientUnits="userSpaceOnUse" x1="439.8" y1="248.5" x2="442.7" y2="230.9"><stop offset="0" stop-color="#ff8c54"/><stop offset="0.5" stop-color="#ff7b54"/><stop offset="1" stop-color="#ff6a54"/></linearGradient>
<linearGradient id="c192" gradientUnits="userSpaceOnUse" x1="467.8" y1="243.3" x2="470.1" y2="226.5"><stop offset="0" stop-color="#ff7751"/><stop offset="0.5" stop-color="#ff6751"/><stop offset="1" stop-color="#ff5751"/></linearGradient>
<linearGradient id="c193" gradientUnits="userSpaceOnUse" x1="496.0" y1="239.5" x2="497.5" y2="223.5"><stop offset="0" stop-color="#ff664d"/><stop offset="0.5" stop-color="#ff574d"/><stop offset="1" stop-color="#ff4d4d"/></linearGradient>
<linearGradient id="c194" gradientUnits="userSpaceOnUse" x1="524.3" y1="237.0" x2="525.0" y2="222.0"><stop offset="0" stop-color="#ff5949"/><stop offset="0.5" stop-color="#ff4c49"/><stop offset="1" stop-color="#ff4949"/></linearGradient>
<linearGradient id="c195" gradientUnits="userSpaceOnUse" x1="552.6" y1="236.0" x2="552.5" y2="221.9"><stop offset="0" stop-color="#ff5144"/><stop offset="0.5" stop-color="#ff4544"/><stop offset="1" stop-color="#ff4444"/></linearGradient>
<linearGradient id="c196" gradientUnits="userSpaceOnUse" x1="581.1" y1="236.4" x2="580.1" y2="223.3"><stop offset="0" stop-color="#ff4e3f"/><stop offset="0.5" stop-color="#ff443f"/><stop offset="1" stop-color="#ff3f3f"/></linearGradient>
<linearGradient id="c197" gradientUnits="userSpaceOnUse" x1="609.6" y1="238.0" x2="607.5" y2="226.2"><stop offset="0" stop-color="#ff513a"/><stop offset="0.5" stop-color="#ff483a"/><stop offset="1" stop-color="#ff3e3a"/></linearGradient>
<linearGradient id="c198" gradientUnits="userSpaceOnUse" x1="638.3" y1="241.3" x2="634.5" y2="229.2"><stop offset="0" stop-color="#ff5a35"/><stop offset="0.5" stop-color="#ff5135"/><stop offset="1" stop-color="#ff4835"/></linearGradient>
<linearGradient id="c199" gradientUnits="userSpaceOnUse" x1="668.8" y1="248.4" x2="659.7" y2="232.1"><stop offset="0" stop-color="#ff6e2f"/><stop offset="0.5" stop-color="#ff622f"/><stop offset="1" stop-color="#ff552f"/></linearGradient>
<linearGradient id="c200" gradientUnits="userSpaceOnUse" x1="701.1" y1="255.5" x2="682.9" y2="238.2"><stop offset="0" stop-color="#ff8929"/><stop offset="0.5" stop-color="#ff7929"/><stop offset="1" stop-color="#ff6a29"/></linearGradient>
<linearGradient id="c201" gradientUnits="userSpaceOnUse" x1="733.2" y1="260.1" x2="706.3" y2="249.5"><stop offset="0" stop-color="#ffac24"/><stop offset="0.5" stop-color="#ff9924"/><stop offset="1" stop-color="#ff8624"/></linearGradient>
<linearGradient id="c202" gradientUnits="userSpaceOnUse" x1="761.2" y1="264.0" x2="733.7" y2="264.4"><stop offset="0" stop-color="#ffd81e"/><stop offset="0.5" stop-color="#ffc11e"/><stop offset="1" stop-color="#ffaa1e"/></linearGradient>
<linearGradient id="c203" gradientUnits="userSpaceOnUse" x1="785.9" y1="271.4" x2="764.3" y2="278.4"><stop offset="0" stop-color="#f2ff19"/><stop offset="0.5" stop-color="#fff219"/><stop offset="1" stop-color="#ffd719"/></linearGradient>
<linearGradient id="c204" gradientUnits="userSpaceOnUse" x1="810.3" y1="282.5" x2="794.9" y2="291.2"><stop offset="0" stop-color="#b4ff13"/><stop offset="0.5" stop-color="#d3ff13"/><stop offset="1" stop-color="#f1ff13"/></linearGradient>
<linearGradient id="c205" gradientUnits="userSpaceOnUse" x1="835.3" y1="296.1" x2="824.6" y2="304.2"><stop offset="0" stop-color="#6cff0e"/><stop offset="0.5" stop-color="#8fff0e"/><stop offset="1" stop-color="#b2ff0e"/></linearGradient>
<linearGradient id="c206" gradientUnits="userSpaceOnUse" x1="860.7" y1="311.4" x2="853.4" y2="318.0"><stop offset="0" stop-color="#1bff09"/><stop offset="0.5" stop-color="#42ff09"/><stop offset="1" stop-color="#69ff09"/></linearGradient>
<linearGradient id="c207" gradientUnits="userSpaceOnUse" x1="886.3" y1="328.1" x2="881.5" y2="333.1"><stop offset="0" stop-color="#04ff49"/><stop offset="0.5" stop-color="#04ff1e"/><stop offset="1" stop-color="#17ff04"/></linearGradient>
<linearGradient id="c208" gradientUnits="userSpaceOnUse" x1="912.0" y1="346.1" x2="909.1" y2="349.4"><stop offset="0" stop-color="#00ffa6"/><stop offset="0.5" stop-color="#00ff76"/><stop offset="1" stop-color="#00ff46"/></linearGradient>
<linearGradient id="c209" gradientUnits="userSpaceOnUse" x1="937.7" y1="365.2" x2="936.3" y2="367.0"><stop offset="0" stop-color="#00f1ff"/><stop offset="0.5" stop-color="#00ffd9"/><stop offset="1" stop-color="#00ffa6"/></linearGradient>
<linearGradient id="c210" gradientUnits="userSpaceOnUse" x1="424.4" y1="262.0" x2="427.8" y2="242.3"><stop offset="0" stop-color="#ffaf5a"/><stop offset="0.5" stop-color="#ff9c5a"/><stop offset="1" stop-color="#ff885a"/></linearGradient>
<linearGradient id="c211" gradientUnits="userSpaceOnUse" x1="452.6" y1="255.6" x2="455.3" y2="236.7"><stop offset="0" stop-color="#ff9857"/><stop offset="0.5" stop-color="#ff8657"/><stop offset="1" stop-color="#ff7357"/></linearGradient>
<linearGradient id="c212" gradientUnits="userSpaceOnUse" x1="480.8" y1="250.7" x2="482.8" y2="232.6"><stop offset="0" stop-color="#ff8554"/><stop offset="0.5" stop-color="#ff7354"/><stop offset="1" stop-color="#ff6254"/></linearGradient>
<linearGradient id="c213" gradientUnits="userSpaceOnUse" x1="509.1" y1="247.1" x2="510.4" y2="229.9"><stop offset="0" stop-color="#ff7650"/><stop offset="0.5" stop-color="#ff6550"/><stop offset="1" stop-color="#ff5550"/></linearGradient>
<linearGradient id="c214" gradientUnits="userSpaceOnUse" x1="537.6" y1="244.9" x2="538.1" y2="228.6"><stop offset="0" stop-color="#ff6a4c"/><stop offset="0.5" stop-color="#ff5b4c"/><stop offset="1" stop-color="#ff4c4c"/></linearGradient>
<linearGradient id="c215" gradientUnits="userSpaceOnUse" x1="566.1" y1="244.2" x2="565.8" y2="228.8"><stop offset="0" stop-color="#ff6447"/><stop offset="0.5" stop-color="#ff5647"/><stop offset="1" stop-color="#ff4847"/></linearGradient>
<linearGradient id="c216" gradientUnits="userSpaceOnUse" x1="594.6" y1="244.8" x2="593.5" y2="230.4"><stop offset="0" stop-color="#ff6343"/><stop offset="0.5" stop-color="#ff5643"/><stop offset="1" stop-color="#ff4943"/></linearGradient>
<linearGradient id="c217" gradientUnits="userSpaceOnUse" x1="623.3" y1="246.8" x2="621.2" y2="233.5"><stop offset="0" stop-color="#ff673e"/><stop offset="0.5" stop-color="#ff5b3e"/><stop offset="1" stop-color="#ff503e"/></linearGradient>
<linearGradient id="c218" gradientUnits="userSpaceOnUse" x1="651.9" y1="250.1" x2="648.7" y2="237.9"><stop offset="0" stop-color="#ff7038"/><stop offset="0.5" stop-color="#ff6638"/><stop offset="1" stop-color="#ff5c38"/></linearGradient>
<linearGradient id="c219" gradientUnits="userSpaceOnUse" x1="681.5" y1="256.6" x2="674.9" y2="241.3"><stop offset="0" stop-color="#ff8433"/><stop offset="0.5" stop-color="#ff7833"/><stop offset="1" stop-color="#ff6b33"/></linearGradient>
<linearGradient id="c220" gradientUnits="userSpaceOnUse" x1="712.6" y1="264.9" x2="699.7" y2="246.7"><stop offset="0" stop-color="#ffa12d"/><stop offset="0.5" stop-color="#ff912d"/><stop offset="1" stop-color="#ff812d"/></linearGradient>
<linearGradient id="c221" gradientUnits="userSpaceOnUse" x1="744.8" y1="272.5" x2="723.3" y2="255.5"><stop offset="0" stop-color="#ffc528"/><stop offset="0.5" stop-color="#ffb228"/><stop offset="1" stop-color="#ff9e28"/></linearGradient>
<linearGradient id="c222" gradientUnits="userSpaceOnUse" x1="775.8" y1="278.3" x2="747.8" y2="269.0"><stop offset="0" stop-color="#fff222"/><stop offset="0.5" stop-color="#ffdb22"/><stop offset="1" stop-color="#ffc422"/></linearGradient>
<linearGradient id="c223" gradientUnits="userSpaceOnUse" x1="803.2" y1="284.5" x2="775.8" y2="284.9"><stop offset="0" stop-color="#d7ff1c"/><stop offset="0.5" stop-color="#f2ff1c"/><stop offset="1" stop-color="#fff11c"/></linearGradient>
<linearGradient id="c224" gradientUnits="userSpaceOnUse" x1="828.1" y1="293.9" x2="806.1" y2="300.1"><stop offset="0" stop-color="#98ff17"/><stop offset="0.5" stop-color="#b7ff17"/><stop offset="1" stop-color="#d6ff17"/></linearGradient>
<linearGradient id="c225" gradientUnits="userSpaceOnUse" x1="852.5" y1="306.6" x2="836.5" y2="314.6"><stop offset="0" stop-color="#50ff12"/><stop offset="0.5" stop-color="#73ff12"/><stop offset="1" stop-color="#96ff12"/></linearGradient>
<linearGradient id="c226" gradientUnits="userSpaceOnUse" x1="877.4" y1="321.7" x2="866.0" y2="329.3"><stop offset="0" stop-color="#0dff1c"/><stop offset="0.5" stop-color="#25ff0d"/><stop offset="1" stop-color="#4cff0d"/></linearGradient>
<linearGradient id="c227" gradientUnits="userSpaceOnUse" x1="902.6" y1="338.5" x2="894.8" y2="344.9"><stop offset="0" stop-color="#08ff6f"/><stop offset="0.5" stop-color="#08ff43"/><stop offset="1" stop-color="#08ff17"/></linearGradient>
<linearGradient id="c228" gradientUnits="userSpaceOnUse" x1="928.0" y1="356.7" x2="922.8" y2="361.5"><stop offset="0" stop-color="#03ffcc"/><stop offset="0.5" stop-color="#03ff9c"/><stop offset="1" stop-color="#03ff6c"/></linearGradient>
<linearGradient id="c229" gradientUnits="userSpaceOnUse" x1="437.2" y1="269.7" x2="440.4" y2="248.6"><stop offset="0" stop-color="#ffbc5d"/><stop offset="0.5" stop-color="#ffa75d"/><stop offset="1" stop-color="#ff915d"/></linearGradient>
<linearGradient id="c230" gradientUnits="userSpaceOnUse" x1="465.5" y1="263.6" x2="468.0" y2="243.3"><stop offset="0" stop-color="#ffa65a"/><stop offset="0.5" stop-color="#ff925a"/><stop offset="1" stop-color="#ff7e5a"/></linearGradient>
<linearGradient id="c231" gradientUnits="userSpaceOnUse" x1="493.9" y1="258.8" x2="495.7" y2="239.4"><stop offset="0" stop-color="#ff9557"/><stop offset="0.5" stop-color="#ff8157"/><stop offset="1" stop-color="#ff6e57"/></linearGradient>
<linearGradient id="c232" gradientUnits="userSpaceOnUse" x1="522.4" y1="255.5" x2="523.5" y2="237.0"><stop offset="0" stop-color="#ff8753"/><stop offset="0.5" stop-color="#ff7553"/><stop offset="1" stop-color="#ff6353"/></linearGradient>
<linearGradient id="c233" gradientUnits="userSpaceOnUse" x1="551.0" y1="253.6" x2="551.4" y2="236.0"><stop offset="0" stop-color="#ff7d4f"/><stop offset="0.5" stop-color="#ff6c4f"/><stop offset="1" stop-color="#ff5b4f"/></linearGradient>
<linearGradient id="c234" gradientUnits="userSpaceOnUse" x1="579.6" y1="253.1" x2="579.3" y2="236.4"><stop offset="0" stop-color="#ff784b"/><stop offset="0.5" stop-color="#ff694b"/><stop offset="1" stop-color="#ff594b"/></linearGradient>
<linearGradient id="c235" gradientUnits="userSpaceOnUse" x1="608.3" y1="254.0" x2="607.2" y2="238.3"><stop offset="0" stop-color="#ff7946"/><stop offset="0.5" stop-color="#ff6a46"/><stop offset="1" stop-color="#ff5b46"/></linearGradient>
<linearGradient id="c236" gradientUnits="userSpaceOnUse" x1="637.1" y1="256.3" x2="635.0" y2="241.7"><stop offset="0" stop-color="#ff7e41"/><stop offset="0.5" stop-color="#ff7141"/><stop offset="1" stop-color="#ff6441"/></linearGradient>
<linearGradient id="c237" gradientUnits="userSpaceOnUse" x1="665.9" y1="260.0" x2="662.7" y2="246.6"><stop offset="0" stop-color="#ff8a3c"/><stop offset="0.5" stop-color="#ff7e3c"/><stop offset="1" stop-color="#ff723c"/></linearGradient>
<linearGradient id="c238" gradientUnits="userSpaceOnUse" x1="695.0" y1="265.8" x2="689.7" y2="251.2"><stop offset="0" stop-color="#ff9d36"/><stop offset="0.5" stop-color="#ff9036"/><stop offset="1" stop-color="#ff8336"/></linearGradient>
<linearGradient id="c239" gradientUnits="userSpaceOnUse" x1="725.3" y1="274.4" x2="715.5" y2="256.6"><stop offset="0" stop-color="#ffbb31"/><stop offset="0.5" stop-color="#ffaa31"/><stop offset="1" stop-color="#ff9a31"/></linearGradient>
<linearGradient id="c240" gradientUnits="userSpaceOnUse" x1="756.7" y1="283.6" x2="740.1" y2="264.5"><stop offset="0" stop-color="#ffe02b"/><stop offset="0.5" stop-color="#ffcc2b"/><stop offset="1" stop-color="#ffb92b"/></linearGradient>
<linearGradient id="c241" gradientUnits="userSpaceOnUse" x1="788.5" y1="291.9" x2="764.1" y2="276.0"><stop offset="0" stop-color="#f0ff26"/><stop offset="0.5" stop-color="#fff726"/><stop offset="1" stop-color="#ffdf26"/></linearGradient>
<linearGradient id="c242" gradientUnits="userSpaceOnUse" x1="818.4" y1="299.2" x2="789.6" y2="291.4"><stop offset="0" stop-color="#b9ff20"/><stop offset="0.5" stop-color="#d5ff20"/><stop offset="1" stop-color="#f0ff20"/></linearGradient>
<linearGradient id="c243" gradientUnits="userSpaceOnUse" x1="845.2" y1="307.5" x2="818.1" y2="308.3"><stop offset="0" stop-color="#7aff1b"/><stop offset="0.5" stop-color="#99ff1b"/><stop offset="1" stop-color="#b8ff1b"/></linearGradient>
<linearGradient id="c244" gradientUnits="userSpaceOnUse" x1="870.1" y1="318.9" x2="848.3" y2="324.8"><stop offset="0" stop-color="#30ff15"/><stop offset="0.5" stop-color="#54ff15"/><stop offset="1" stop-color="#77ff15"/></linearGradient>
<linearGradient id="c245" gradientUnits="userSpaceOnUse" x1="894.6" y1="333.3" x2="878.3" y2="340.8"><stop offset="0" stop-color="#10ff43"/><stop offset="0.5" stop-color="#10ff1c"/><stop offset="1" stop-color="#2cff10"/></linearGradient>
<linearGradient id="c246" gradientUnits="userSpaceOnUse" x1="919.3" y1="349.9" x2="907.7" y2="357.2"><stop offset="0" stop-color="#0bff97"/><stop offset="0.5" stop-color="#0bff6b"/><stop offset="1" stop-color="#0bff3f"/></linearGradient>
<linearGradient id="c247" gradientUnits="userSpaceOnUse" x1="450.2" y1="278.2" x2="453.1" y2="255.7"><stop offset="0" stop-color="#ffcb5f"/><stop offset="0.5" stop-color="#ffb45f"/><stop offset="1" stop-color="#ff9d5f"/></linearGradient>
<linearGradient id="c248" gradientUnits="userSpaceOnUse" x1="478.6" y1="272.3" x2="480.9" y2="250.6"><stop offset="0" stop-color="#ffb75c"/><stop offset="0.5" stop-color="#ffa15c"/><stop offset="1" stop-color="#ff8b5c"/></linearGradient>
<linearGradient id="c249" gradientUnits="userSpaceOnUse" x1="507.2" y1="267.8" x2="508.8" y2="247.0"><stop offset="0" stop-color="#ffa659"/><stop offset="0.5" stop-color="#ff9159"/><stop offset="1" stop-color="#ff7d59"/></linearGradient>
<linearGradient id="c250" gradientUnits="userSpaceOnUse" x1="535.9" y1="264.7" x2="536.8" y2="244.9"><stop offset="0" stop-color="#ff9a56"/><stop offset="0.5" stop-color="#ff8656"/><stop offset="1" stop-color="#ff7356"/></linearGradient>
<linearGradient id="c251" gradientUnits="userSpaceOnUse" x1="564.6" y1="263.1" x2="564.8" y2="244.1"><stop offset="0" stop-color="#ff9252"/><stop offset="0.5" stop-color="#ff7f52"/><stop offset="1" stop-color="#ff6d52"/></linearGradient>
<linearGradient id="c252" gradientUnits="userSpaceOnUse" x1="593.4" y1="262.9" x2="592.9" y2="244.9"><stop offset="0" stop-color="#ff8f4e"/><stop offset="0.5" stop-color="#ff7d4e"/><stop offset="1" stop-color="#ff6c4e"/></linearGradient>
<linearGradient id="c253" gradientUnits="userSpaceOnUse" x1="622.2" y1="264.1" x2="620.9" y2="247.0"><stop offset="0" stop-color="#ff9049"/><stop offset="0.5" stop-color="#ff8049"/><stop offset="1" stop-color="#ff7049"/></linearGradient>
<linearGradient id="c254" gradientUnits="userSpaceOnUse" x1="651.1" y1="266.7" x2="648.9" y2="250.7"><stop offset="0" stop-color="#ff9744"/><stop offset="0.5" stop-color="#ff8844"/><stop offset="1" stop-color="#ff7944"/></linearGradient>
<linearGradient id="c255" gradientUnits="userSpaceOnUse" x1="680.0" y1="270.6" x2="676.8" y2="255.8"><stop offset="0" stop-color="#ffa43f"/><stop offset="0.5" stop-color="#ff963f"/><stop offset="1" stop-color="#ff893f"/></linearGradient>
<linearGradient id="c256" gradientUnits="userSpaceOnUse" x1="708.9" y1="275.9" x2="704.4" y2="261.7"><stop offset="0" stop-color="#ffb83a"/><stop offset="0.5" stop-color="#ffaa3a"/><stop offset="1" stop-color="#ff9d3a"/></linearGradient>
<linearGradient id="c257" gradientUnits="userSpaceOnUse" x1="738.8" y1="284.8" x2="730.8" y2="267.4"><stop offset="0" stop-color="#ffd734"/><stop offset="0.5" stop-color="#ffc634"/><stop offset="1" stop-color="#ffb634"/></linearGradient>
<linearGradient id="c258" gradientUnits="userSpaceOnUse" x1="769.6" y1="294.7" x2="756.3" y2="275.1"><stop offset="0" stop-color="#fffd2f"/><stop offset="0.5" stop-color="#ffe92f"/><stop offset="1" stop-color="#ffd52f"/></linearGradient>
<linearGradient id="c259" gradientUnits="userSpaceOnUse" x1="801.0" y1="304.6" x2="780.8" y2="285.6"><stop offset="0" stop-color="#d2ff29"/><stop offset="0.5" stop-color="#e9ff29"/><stop offset="1" stop-color="#fffd29"/></linearGradient>
<linearGradient id="c260" gradientUnits="userSpaceOnUse" x1="832.1" y1="313.8" x2="805.4" y2="299.5"><stop offset="0" stop-color="#9aff24"/><stop offset="0.5" stop-color="#b5ff24"/><stop offset="1" stop-color="#d1ff24"/></linearGradient>
<linearGradient id="c261" gradientUnits="userSpaceOnUse" x1="861.0" y1="322.7" x2="831.8" y2="316.6"><stop offset="0" stop-color="#59ff1e"/><stop offset="0.5" stop-color="#78ff1e"/><stop offset="1" stop-color="#98ff1e"/></linearGradient>
<linearGradient id="c262" gradientUnits="userSpaceOnUse" x1="887.3" y1="333.2" x2="860.7" y2="334.6"><stop offset="0" stop-color="#19ff23"/><stop offset="0.5" stop-color="#32ff19"/><stop offset="1" stop-color="#55ff19"/></linearGradient>
<linearGradient id="c263" gradientUnits="userSpaceOnUse" x1="912.0" y1="346.6" x2="890.6" y2="352.3"><stop offset="0" stop-color="#14ff6d"/><stop offset="0.5" stop-color="#14ff45"/><stop offset="1" stop-color="#14ff1e"/></linearGradient>
<linearGradient id="c264" gradientUnits="userSpaceOnUse" x1="463.2" y1="287.5" x2="466.1" y2="263.6"><stop offset="0" stop-color="#ffdb61"/><stop offset="0.5" stop-color="#ffc361"/><stop offset="1" stop-color="#ffaa61"/></linearGradient>
<linearGradient id="c265" gradientUnits="userSpaceOnUse" x1="491.9" y1="281.8" x2="494.0" y2="258.8"><stop offset="0" stop-color="#ffc85f"/><stop offset="0.5" stop-color="#ffb15f"/><stop offset="1" stop-color="#ff9a5f"/></linearGradient>
<linearGradient id="c266" gradientUnits="userSpaceOnUse" x1="520.6" y1="277.6" x2="522.1" y2="255.5"><stop offset="0" stop-color="#ffba5b"/><stop offset="0.5" stop-color="#ffa35b"/><stop offset="1" stop-color="#ff8d5b"/></linearGradient>
<linearGradient id="c267" gradientUnits="userSpaceOnUse" x1="549.5" y1="274.8" x2="550.3" y2="253.6"><stop offset="0" stop-color="#ffaf58"/><stop offset="0.5" stop-color="#ff9a58"/><stop offset="1" stop-color="#ff8458"/></linearGradient>
<linearGradient id="c268" gradientUnits="userSpaceOnUse" x1="578.4" y1="273.4" x2="578.5" y2="253.1"><stop offset="0" stop-color="#ffa954"/><stop offset="0.5" stop-color="#ff9454"/><stop offset="1" stop-color="#ff8054"/></linearGradient>
<linearGradient id="c269" gradientUnits="userSpaceOnUse" x1="607.3" y1="273.5" x2="606.7" y2="254.1"><stop offset="0" stop-color="#ffa750"/><stop offset="0.5" stop-color="#ff9350"/><stop offset="1" stop-color="#ff8050"/></linearGradient>
<linearGradient id="c270" gradientUnits="userSpaceOnUse" x1="636.3" y1="275.0" x2="634.9" y2="256.6"><stop offset="0" stop-color="#ffaa4c"/><stop offset="0.5" stop-color="#ff984c"/><stop offset="1" stop-color="#ff864c"/></linearGradient>
<linearGradient id="c271" gradientUnits="userSpaceOnUse" x1="665.2" y1="277.9" x2="663.0" y2="260.5"><stop offset="0" stop-color="#ffb347"/><stop offset="0.5" stop-color="#ffa147"/><stop offset="1" stop-color="#ff9047"/></linearGradient>
<linearGradient id="c272" gradientUnits="userSpaceOnUse" x1="694.2" y1="282.1" x2="691.1" y2="265.9"><stop offset="0" stop-color="#ffc142"/><stop offset="0.5" stop-color="#ffb142"/><stop offset="1" stop-color="#ffa142"/></linearGradient>
<linearGradient id="c273" gradientUnits="userSpaceOnUse" x1="723.2" y1="287.7" x2="719.0" y2="272.8"><stop offset="0" stop-color="#ffd63d"/><stop offset="0.5" stop-color="#ffc73d"/><stop offset="1" stop-color="#ffb93d"/></linearGradient>
<linearGradient id="c274" gradientUnits="userSpaceOnUse" x1="752.7" y1="296.0" x2="745.9" y2="279.0"><stop offset="0" stop-color="#fff438"/><stop offset="0.5" stop-color="#ffe438"/><stop offset="1" stop-color="#ffd338"/></linearGradient>
<linearGradient id="c275" gradientUnits="userSpaceOnUse" x1="783.1" y1="306.3" x2="772.0" y2="286.8"><stop offset="0" stop-color="#e2ff32"/><stop offset="0.5" stop-color="#f6ff32"/><stop offset="1" stop-color="#fff432"/></linearGradient>
<linearGradient id="c276" gradientUnits="userSpaceOnUse" x1="814.1" y1="317.2" x2="797.2" y2="296.8"><stop offset="0" stop-color="#b2ff2d"/><stop offset="0.5" stop-color="#c9ff2d"/><stop offset="1" stop-color="#e1ff2d"/></linearGradient>
<linearGradient id="c277" gradientUnits="userSpaceOnUse" x1="845.3" y1="328.0" x2="821.8" y2="309.8"><stop offset="0" stop-color="#79ff27"/><stop offset="0.5" stop-color="#94ff27"/><stop offset="1" stop-color="#afff27"/></linearGradient>
<linearGradient id="c278" gradientUnits="userSpaceOnUse" x1="875.5" y1="338.2" x2="847.1" y2="326.0"><stop offset="0" stop-color="#37ff22"/><stop offset="0.5" stop-color="#56ff22"/><stop offset="1" stop-color="#75ff22"/></linearGradient>
<linearGradient id="c279" gradientUnits="userSpaceOnUse" x1="903.5" y1="348.9" x2="874.4" y2="344.5"><stop offset="0" stop-color="#1cff4e"/><stop offset="0.5" stop-color="#1cff2a"/><stop offset="1" stop-color="#32ff1c"/></linearGradient>
<linearGradient id="c280" gradientUnits="userSpaceOnUse" x1="476.5" y1="297.6" x2="479.2" y2="272.3"><stop offset="0" stop-color="#ffed63"/><stop offset="0.5" stop-color="#ffd463"/><stop offset="1" stop-color="#ffba63"/></linearGradient>
<linearGradient id="c281" gradientUnits="userSpaceOnUse" x1="505.3" y1="292.2" x2="507.3" y2="267.8"><stop offset="0" stop-color="#ffdc61"/><stop offset="0.5" stop-color="#ffc361"/><stop offset="1" stop-color="#ffaa61"/></linearGradient>
<linearGradient id="c282" gradientUnits="userSpaceOnUse" x1="534.2" y1="288.2" x2="535.6" y2="264.7"><stop offset="0" stop-color="#ffcf5e"/><stop offset="0.5" stop-color="#ffb75e"/><stop offset="1" stop-color="#ff9f5e"/></linearGradient>
<linearGradient id="c283" gradientUnits="userSpaceOnUse" x1="563.2" y1="285.7" x2="563.9" y2="263.1"><stop offset="0" stop-color="#ffc65a"/><stop offset="0.5" stop-color="#ffaf5a"/><stop offset="1" stop-color="#ff985a"/></linearGradient>
<linearGradient id="c284" gradientUnits="userSpaceOnUse" x1="592.3" y1="284.6" x2="592.2" y2="262.9"><stop offset="0" stop-color="#ffc157"/><stop offset="0.5" stop-color="#ffab57"/><stop offset="1" stop-color="#ff9557"/></linearGradient>
<linearGradient id="c285" gradientUnits="userSpaceOnUse" x1="621.3" y1="284.9" x2="620.6" y2="264.2"><stop offset="0" stop-color="#ffc053"/><stop offset="0.5" stop-color="#ffab53"/><stop offset="1" stop-color="#ff9653"/></linearGradient>
<linearGradient id="c286" gradientUnits="userSpaceOnUse" x1="650.4" y1="286.7" x2="648.9" y2="266.9"><stop offset="0" stop-color="#ffc54f"/><stop offset="0.5" stop-color="#ffb14f"/><stop offset="1" stop-color="#ff9d4f"/></linearGradient>
<linearGradient id="c287" gradientUnits="userSpaceOnUse" x1="679.6" y1="289.9" x2="677.2" y2="271.1"><stop offset="0" stop-color="#ffcf4a"/><stop offset="0.5" stop-color="#ffbc4a"/><stop offset="1" stop-color="#ffaa4a"/></linearGradient>
<linearGradient id="c288" gradientUnits="userSpaceOnUse" x1="708.7" y1="294.4" x2="705.4" y2="276.8"><stop offset="0" stop-color="#ffdf45"/><stop offset="0.5" stop-color="#ffce45"/><stop offset="1" stop-color="#ffbc45"/></linearGradient>
<linearGradient id="c289" gradientUnits="userSpaceOnUse" x1="737.8" y1="300.4" x2="733.5" y2="283.9"><stop offset="0" stop-color="#fff640"/><stop offset="0.5" stop-color="#ffe540"/><stop offset="1" stop-color="#ffd540"/></linearGradient>
<linearGradient id="c290" gradientUnits="userSpaceOnUse" x1="767.0" y1="308.1" x2="761.0" y2="291.4"><stop offset="0" stop-color="#eaff3b"/><stop offset="0.5" stop-color="#fbff3b"/><stop offset="1" stop-color="#fff23b"/></linearGradient>
<linearGradient id="c291" gradientUnits="userSpaceOnUse" x1="797.1" y1="318.7" x2="787.5" y2="299.4"><stop offset="0" stop-color="#c1ff35"/><stop offset="0.5" stop-color="#d5ff35"/><stop offset="1" stop-color="#eaff35"/></linearGradient>
<linearGradient id="c292" gradientUnits="userSpaceOnUse" x1="827.7" y1="330.3" x2="813.2" y2="309.4"><stop offset="0" stop-color="#8fff30"/><stop offset="0.5" stop-color="#a7ff30"/><stop offset="1" stop-color="#bfff30"/></linearGradient>
<linearGradient id="c293" gradientUnits="userSpaceOnUse" x1="858.7" y1="342.2" x2="838.3" y2="321.8"><stop offset="0" stop-color="#55ff2b"/><stop offset="0.5" stop-color="#71ff2b"/><stop offset="1" stop-color="#8cff2b"/></linearGradient>
<linearGradient id="c294" gradientUnits="userSpaceOnUse" x1="889.4" y1="353.8" x2="863.2" y2="337.2"><stop offset="0" stop-color="#25ff38"/><stop offset="0.5" stop-color="#31ff25"/><stop offset="1" stop-color="#51ff25"/></linearGradient>
<linearGradient id="c295" gradientUnits="userSpaceOnUse" x1="489.9" y1="308.5" x2="492.4" y2="281.8"><stop offset="0" stop-color="#fdff65"/><stop offset="0.5" stop-color="#ffe665"/><stop offset="1" stop-color="#ffcb65"/></linearGradient>
<linearGradient id="c296" gradientUnits="userSpaceOnUse" x1="518.9" y1="303.3" x2="520.8" y2="277.6"><stop offset="0" stop-color="#fff162"/><stop offset="0.5" stop-color="#ffd762"/><stop offset="1" stop-color="#ffbd62"/></linearGradient>
<linearGradient id="c297" gradientUnits="userSpaceOnUse" x1="548.0" y1="299.7" x2="549.2" y2="274.8"><stop offset="0" stop-color="#ffe660"/><stop offset="0.5" stop-color="#ffcc60"/><stop offset="1" stop-color="#ffb360"/></linearGradient>
<linearGradient id="c298" gradientUnits="userSpaceOnUse" x1="577.1" y1="297.4" x2="577.6" y2="273.4"><stop offset="0" stop-color="#ffde5d"/><stop offset="0.5" stop-color="#ffc55d"/><stop offset="1" stop-color="#ffad5d"/></linearGradient>
<linearGradient id="c299" gradientUnits="userSpaceOnUse" x1="606.3" y1="296.6" x2="606.1" y2="273.5"><stop offset="0" stop-color="#ffda59"/><stop offset="0.5" stop-color="#ffc359"/><stop offset="1" stop-color="#ffab59"/></linearGradient>
<linearGradient id="c300" gradientUnits="userSpaceOnUse" x1="635.5" y1="297.2" x2="634.7" y2="275.1"><stop offset="0" stop-color="#ffdc55"/><stop offset="0.5" stop-color="#ffc555"/><stop offset="1" stop-color="#ffae55"/></linearGradient>
<linearGradient id="c301" gradientUnits="userSpaceOnUse" x1="664.8" y1="299.2" x2="663.1" y2="278.1"><stop offset="0" stop-color="#ffe251"/><stop offset="0.5" stop-color="#ffcc51"/><stop offset="1" stop-color="#ffb751"/></linearGradient>
<linearGradient id="c302" gradientUnits="userSpaceOnUse" x1="694.0" y1="302.7" x2="691.5" y2="282.6"><stop offset="0" stop-color="#ffee4d"/><stop offset="0.5" stop-color="#ffd94d"/><stop offset="1" stop-color="#ffc44d"/></linearGradient>
<linearGradient id="c303" gradientUnits="userSpaceOnUse" x1="723.2" y1="307.6" x2="719.9" y2="288.5"><stop offset="0" stop-color="#ffff48"/><stop offset="0.5" stop-color="#ffec48"/><stop offset="1" stop-color="#ffd848"/></linearGradient>
<linearGradient id="c304" gradientUnits="userSpaceOnUse" x1="752.4" y1="313.8" x2="748.1" y2="295.9"><stop offset="0" stop-color="#e7ff43"/><stop offset="0.5" stop-color="#f9ff43"/><stop offset="1" stop-color="#fff243"/></linearGradient>
<linearGradient id="c305" gradientUnits="userSpaceOnUse" x1="781.6" y1="321.4" x2="776.0" y2="304.5"><stop offset="0" stop-color="#c8ff3e"/><stop offset="0.5" stop-color="#daff3e"/><stop offset="1" stop-color="#ebff3e"/></linearGradient>
<linearGradient id="c306" gradientUnits="userSpaceOnUse" x1="811.4" y1="332.0" x2="802.9" y2="312.8"><stop offset="0" stop-color="#9eff39"/><stop offset="0.5" stop-color="#b3ff39"/><stop offset="1" stop-color="#c7ff39"/></linearGradient>
<linearGradient id="c307" gradientUnits="userSpaceOnUse" x1="841.8" y1="344.0" x2="829.1" y2="322.9"><stop offset="0" stop-color="#6bff33"/><stop offset="0.5" stop-color="#83ff33"/><stop offset="1" stop-color="#9bff33"/></linearGradient>
<linearGradient id="c308" gradientUnits="userSpaceOnUse" x1="872.5" y1="356.6" x2="854.5" y2="335.1"><stop offset="0" stop-color="#30ff2e"/><stop offset="0.5" stop-color="#4cff2e"/><stop offset="1" stop-color="#67ff2e"/></linearGradient>
<linearGradient id="c309" gradientUnits="userSpaceOnUse" x1="503.5" y1="320.2" x2="505.9" y2="292.2"><stop offset="0" stop-color="#e7ff67"/><stop offset="0.5" stop-color="#fffa67"/><stop offset="1" stop-color="#ffdd67"/></linearGradient>
<linearGradient id="c310" gradientUnits="userSpaceOnUse" x1="532.7" y1="315.4" x2="534.4" y2="288.2"><stop offset="0" stop-color="#f5ff64"/><stop offset="0.5" stop-color="#ffed64"/><stop offset="1" stop-color="#ffd164"/></linearGradient>
<linearGradient id="c311" gradientUnits="userSpaceOnUse" x1="561.9" y1="311.9" x2="563.0" y2="285.7"><stop offset="0" stop-color="#fffe62"/><stop offset="0.5" stop-color="#ffe362"/><stop offset="1" stop-color="#ffc862"/></linearGradient>
<linearGradient id="c312" gradientUnits="userSpaceOnUse" x1="591.2" y1="310.0" x2="591.6" y2="284.6"><stop offset="0" stop-color="#fff85f"/><stop offset="0.5" stop-color="#ffde5f"/><stop offset="1" stop-color="#ffc35f"/></linearGradient>
<linearGradient id="c313" gradientUnits="userSpaceOnUse" x1="620.5" y1="309.4" x2="620.2" y2="284.9"><stop offset="0" stop-color="#fff65b"/><stop offset="0.5" stop-color="#ffdd5b"/><stop offset="1" stop-color="#ffc35b"/></linearGradient>
<linearGradient id="c314" gradientUnits="userSpaceOnUse" x1="649.9" y1="310.3" x2="648.9" y2="286.8"><stop offset="0" stop-color="#fff958"/><stop offset="0.5" stop-color="#ffe058"/><stop offset="1" stop-color="#ffc858"/></linearGradient>
<linearGradient id="c315" gradientUnits="userSpaceOnUse" x1="679.3" y1="312.7" x2="677.5" y2="290.1"><stop offset="0" stop-color="#fdff53"/><stop offset="0.5" stop-color="#ffe953"/><stop offset="1" stop-color="#ffd253"/></linearGradient>
<linearGradient id="c316" gradientUnits="userSpaceOnUse" x1="708.6" y1="316.4" x2="706.0" y2="294.8"><stop offset="0" stop-color="#f0ff4f"/><stop offset="0.5" stop-color="#fff74f"/><stop offset="1" stop-color="#ffe14f"/></linearGradient>
<linearGradient id="c317" gradientUnits="userSpaceOnUse" x1="738.0" y1="321.6" x2="734.5" y2="301.1"><stop offset="0" stop-color="#ddff4b"/><stop offset="0.5" stop-color="#f2ff4b"/><stop offset="1" stop-color="#fff64b"/></linearGradient>
<linearGradient id="c318" gradientUnits="userSpaceOnUse" x1="767.3" y1="328.1" x2="762.8" y2="308.8"><stop offset="0" stop-color="#c4ff46"/><stop offset="0.5" stop-color="#d8ff46"/><stop offset="1" stop-color="#ecff46"/></linearGradient>
<linearGradient id="c319" gradientUnits="userSpaceOnUse" x1="796.5" y1="336.0" x2="791.0" y2="318.0"><stop offset="0" stop-color="#a3ff41"/><stop offset="0.5" stop-color="#b6ff41"/><stop offset="1" stop-color="#caff41"/></linearGradient>
<linearGradient id="c320" gradientUnits="userSpaceOnUse" x1="826.0" y1="346.1" x2="818.3" y2="327.0"><stop offset="0" stop-color="#79ff3c"/><stop offset="0.5" stop-color="#8eff3c"/><stop offset="1" stop-color="#a3ff3c"/></linearGradient>
<linearGradient id="c321" gradientUnits="userSpaceOnUse" x1="856.2" y1="358.5" x2="844.8" y2="337.3"><stop offset="0" stop-color="#45ff36"/><stop offset="0.5" stop-color="#5eff36"/><stop offset="1" stop-color="#76ff36"/></linearGradient>
<linearGradient id="c322" gradientUnits="userSpaceOnUse" x1="517.2" y1="332.8" x2="519.5" y2="303.4"><stop offset="0" stop-color="#cfff68"/><stop offset="0.5" stop-color="#eeff68"/><stop offset="1" stop-color="#fff268"/></linearGradient>
<linearGradient id="c323" gradientUnits="userSpaceOnUse" x1="546.6" y1="328.2" x2="548.2" y2="299.7"><stop offset="0" stop-color="#ddff66"/><stop offset="0.5" stop-color="#faff66"/><stop offset="1" stop-color="#ffe766"/></linearGradient>
<linearGradient id="c324" gradientUnits="userSpaceOnUse" x1="575.9" y1="325.1" x2="576.9" y2="297.4"><stop offset="0" stop-color="#e6ff63"/><stop offset="0.5" stop-color="#fffc63"/><stop offset="1" stop-color="#ffdf63"/></linearGradient>
<linearGradient id="c325" gradientUnits="userSpaceOnUse" x1="605.4" y1="323.4" x2="605.7" y2="296.6"><stop offset="0" stop-color="#ebff60"/><stop offset="0.5" stop-color="#fff860"/><stop offset="1" stop-color="#ffdc60"/></linearGradient>
<linearGradient id="c326" gradientUnits="userSpaceOnUse" x1="634.9" y1="323.1" x2="634.4" y2="297.2"><stop offset="0" stop-color="#ebff5d"/><stop offset="0.5" stop-color="#fff85d"/><stop offset="1" stop-color="#ffdd5d"/></linearGradient>
<linearGradient id="c327" gradientUnits="userSpaceOnUse" x1="664.4" y1="324.3" x2="663.2" y2="299.3"><stop offset="0" stop-color="#e7ff5a"/><stop offset="0.5" stop-color="#fffd5a"/><stop offset="1" stop-color="#ffe35a"/></linearGradient>
<linearGradient id="c328" gradientUnits="userSpaceOnUse" x1="693.9" y1="326.9" x2="692.0" y2="302.9"><stop offset="0" stop-color="#ddff56"/><stop offset="0.5" stop-color="#f6ff56"/><stop offset="1" stop-color="#ffef56"/></linearGradient>
<linearGradient id="c329" gradientUnits="userSpaceOnUse" x1="723.4" y1="331.0" x2="720.6" y2="308.0"><stop offset="0" stop-color="#ceff51"/><stop offset="0.5" stop-color="#e7ff51"/><stop offset="1" stop-color="#ffff51"/></linearGradient>
<linearGradient id="c330" gradientUnits="userSpaceOnUse" x1="752.8" y1="336.4" x2="749.2" y2="314.5"><stop offset="0" stop-color="#baff4d"/><stop offset="0.5" stop-color="#d1ff4d"/><stop offset="1" stop-color="#e8ff4d"/></linearGradient>
<linearGradient id="c331" gradientUnits="userSpaceOnUse" x1="782.2" y1="343.3" x2="777.6" y2="322.5"><stop offset="0" stop-color="#9fff48"/><stop offset="0.5" stop-color="#b5ff48"/><stop offset="1" stop-color="#cbff48"/></linearGradient>
<linearGradient id="c332" gradientUnits="userSpaceOnUse" x1="811.5" y1="351.5" x2="805.9" y2="332.0"><stop offset="0" stop-color="#7dff43"/><stop offset="0.5" stop-color="#92ff43"/><stop offset="1" stop-color="#a7ff43"/></linearGradient>
<linearGradient id="c333" gradientUnits="userSpaceOnUse" x1="840.8" y1="361.1" x2="833.6" y2="342.1"><stop offset="0" stop-color="#53ff3e"/><stop offset="0.5" stop-color="#68ff3e"/><stop offset="1" stop-color="#7dff3e"/></linearGradient>
<linearGradient id="c334" gradientUnits="userSpaceOnUse" x1="531.1" y1="346.3" x2="533.3" y2="315.4"><stop offset="0" stop-color="#b6ff69"/><stop offset="0.5" stop-color="#d6ff69"/><stop offset="1" stop-color="#f6ff69"/></linearGradient>
<linearGradient id="c335" gradientUnits="userSpaceOnUse" x1="560.6" y1="342.0" x2="562.1" y2="311.9"><stop offset="0" stop-color="#c2ff67"/><stop offset="0.5" stop-color="#e1ff67"/><stop offset="1" stop-color="#fffe67"/></linearGradient>
<linearGradient id="c336" gradientUnits="userSpaceOnUse" x1="590.2" y1="339.1" x2="591.0" y2="309.9"><stop offset="0" stop-color="#caff65"/><stop offset="0.5" stop-color="#e8ff65"/><stop offset="1" stop-color="#fff865"/></linearGradient>
<linearGradient id="c337" gradientUnits="userSpaceOnUse" x1="619.8" y1="337.6" x2="619.9" y2="309.4"><stop offset="0" stop-color="#cdff62"/><stop offset="0.5" stop-color="#ebff62"/><stop offset="1" stop-color="#fff662"/></linearGradient>
<linearGradient id="c338" gradientUnits="userSpaceOnUse" x1="649.4" y1="337.7" x2="648.8" y2="310.3"><stop offset="0" stop-color="#ccff5f"/><stop offset="0.5" stop-color="#e9ff5f"/><stop offset="1" stop-color="#fff95f"/></linearGradient>
<linearGradient id="c339" gradientUnits="userSpaceOnUse" x1="679.0" y1="339.1" x2="677.7" y2="312.7"><stop offset="0" stop-color="#c7ff5b"/><stop offset="0.5" stop-color="#e2ff5b"/><stop offset="1" stop-color="#feff5b"/></linearGradient>
<linearGradient id="c340" gradientUnits="userSpaceOnUse" x1="708.6" y1="342.0" x2="706.6" y2="316.6"><stop offset="0" stop-color="#bcff58"/><stop offset="0.5" stop-color="#d6ff58"/><stop offset="1" stop-color="#f1ff58"/></linearGradient>
<linearGradient id="c341" gradientUnits="userSpaceOnUse" x1="738.2" y1="346.4" x2="735.4" y2="322.0"><stop offset="0" stop-color="#abff54"/><stop offset="0.5" stop-color="#c5ff54"/><stop offset="1" stop-color="#dfff54"/></linearGradient>
<linearGradient id="c342" gradientUnits="userSpaceOnUse" x1="767.8" y1="352.1" x2="764.0" y2="328.8"><stop offset="0" stop-color="#95ff4f"/><stop offset="0.5" stop-color="#aeff4f"/><stop offset="1" stop-color="#c7ff4f"/></linearGradient>
<linearGradient id="c343" gradientUnits="userSpaceOnUse" x1="797.3" y1="359.3" x2="792.5" y2="337.0"><stop offset="0" stop-color="#78ff4b"/><stop offset="0.5" stop-color="#90ff4b"/><stop offset="1" stop-color="#a8ff4b"/></linearGradient>
<linearGradient id="c344" gradientUnits="userSpaceOnUse" x1="826.7" y1="367.8" x2="820.9" y2="346.8"><stop offset="0" stop-color="#55ff46"/><stop offset="0.5" stop-color="#6cff46"/><stop offset="1" stop-color="#82ff46"/></linearGradient>
<linearGradient id="c345" gradientUnits="userSpaceOnUse" x1="545.2" y1="360.6" x2="547.2" y2="328.3"><stop offset="0" stop-color="#9bff6b"/><stop offset="0.5" stop-color="#bdff6b"/><stop offset="1" stop-color="#deff6b"/></linearGradient>
<linearGradient id="c346" gradientUnits="userSpaceOnUse" x1="574.8" y1="356.6" x2="576.2" y2="325.1"><stop offset="0" stop-color="#a6ff69"/><stop offset="0.5" stop-color="#c6ff69"/><stop offset="1" stop-color="#e7ff69"/></linearGradient>
<linearGradient id="c347" gradientUnits="userSpaceOnUse" x1="604.5" y1="353.9" x2="605.2" y2="323.4"><stop offset="0" stop-color="#acff66"/><stop offset="0.5" stop-color="#ccff66"/><stop offset="1" stop-color="#ebff66"/></linearGradient>
<linearGradient id="c348" gradientUnits="userSpaceOnUse" x1="634.3" y1="352.8" x2="634.2" y2="323.1"><stop offset="0" stop-color="#afff63"/><stop offset="0.5" stop-color="#cdff63"/><stop offset="1" stop-color="#ecff63"/></linearGradient>
<linearGradient id="c349" gradientUnits="userSpaceOnUse" x1="664.0" y1="353.1" x2="663.3" y2="324.3"><stop offset="0" stop-color="#acff60"/><stop offset="0.5" stop-color="#caff60"/><stop offset="1" stop-color="#e8ff60"/></linearGradient>
<linearGradient id="c350" gradientUnits="userSpaceOnUse" x1="693.8" y1="354.8" x2="692.3" y2="327.0"><stop offset="0" stop-color="#a5ff5d"/><stop offset="0.5" stop-color="#c2ff5d"/><stop offset="1" stop-color="#dfff5d"/></linearGradient>
<linearGradient id="c351" gradientUnits="userSpaceOnUse" x1="723.5" y1="358.0" x2="721.3" y2="331.2"><stop offset="0" stop-color="#98ff59"/><stop offset="0.5" stop-color="#b4ff59"/><stop offset="1" stop-color="#d1ff59"/></linearGradient>
<linearGradient id="c352" gradientUnits="userSpaceOnUse" x1="753.3" y1="362.6" x2="750.2" y2="336.8"><stop offset="0" stop-color="#86ff56"/><stop offset="0.5" stop-color="#a2ff56"/><stop offset="1" stop-color="#bdff56"/></linearGradient>
<linearGradient id="c353" gradientUnits="userSpaceOnUse" x1="782.9" y1="368.7" x2="779.0" y2="343.9"><stop offset="0" stop-color="#6eff51"/><stop offset="0.5" stop-color="#89ff51"/><stop offset="1" stop-color="#a3ff51"/></linearGradient>
<linearGradient id="c354" gradientUnits="userSpaceOnUse" x1="812.5" y1="376.1" x2="807.6" y2="352.4"><stop offset="0" stop-color="#50ff4d"/><stop offset="0.5" stop-color="#6aff4d"/><stop offset="1" stop-color="#83ff4d"/></linearGradient>
<linearGradient id="c355" gradientUnits="userSpaceOnUse" x1="559.4" y1="375.8" x2="561.3" y2="342.0"><stop offset="0" stop-color="#7fff6c"/><stop offset="0.5" stop-color="#a1ff6c"/><stop offset="1" stop-color="#c4ff6c"/></linearGradient>
<linearGradient id="c356" gradientUnits="userSpaceOnUse" x1="589.2" y1="372.0" x2="590.4" y2="339.1"><stop offset="0" stop-color="#88ff6a"/><stop offset="0.5" stop-color="#aaff6a"/><stop offset="1" stop-color="#ccff6a"/></linearGradient>
<linearGradient id="c357" gradientUnits="userSpaceOnUse" x1="619.0" y1="369.7" x2="619.6" y2="337.6"><stop offset="0" stop-color="#8dff67"/><stop offset="0.5" stop-color="#aeff67"/><stop offset="1" stop-color="#cfff67"/></linearGradient>
<linearGradient id="c358" gradientUnits="userSpaceOnUse" x1="648.9" y1="368.8" x2="648.7" y2="337.7"><stop offset="0" stop-color="#8eff65"/><stop offset="0.5" stop-color="#aeff65"/><stop offset="1" stop-color="#ceff65"/></linearGradient>
<linearGradient id="c359" gradientUnits="userSpaceOnUse" x1="678.8" y1="369.4" x2="677.9" y2="339.2"><stop offset="0" stop-color="#8aff62"/><stop offset="0.5" stop-color="#a9ff62"/><stop offset="1" stop-color="#c9ff62"/></linearGradient>
<linearGradient id="c360" gradientUnits="userSpaceOnUse" x1="708.7" y1="371.4" x2="707.1" y2="342.1"><stop offset="0" stop-color="#81ff5f"/><stop offset="0.5" stop-color="#a0ff5f"/><stop offset="1" stop-color="#beff5f"/></linearGradient>
<linearGradient id="c361" gradientUnits="userSpaceOnUse" x1="738.6" y1="374.9" x2="736.2" y2="346.6"><stop offset="0" stop-color="#73ff5b"/><stop offset="0.5" stop-color="#91ff5b"/><stop offset="1" stop-color="#afff5b"/></linearGradient>
<linearGradient id="c362" gradientUnits="userSpaceOnUse" x1="768.4" y1="379.8" x2="765.2" y2="352.5"><stop offset="0" stop-color="#60ff57"/><stop offset="0.5" stop-color="#7dff57"/><stop offset="1" stop-color="#9aff57"/></linearGradient>
<linearGradient id="c363" gradientUnits="userSpaceOnUse" x1="798.2" y1="386.1" x2="794.0" y2="359.9"><stop offset="0" stop-color="#53ff61"/><stop offset="0.5" stop-color="#62ff53"/><stop offset="1" stop-color="#7fff53"/></linearGradient>
<linearGradient id="c364" gradientUnits="userSpaceOnUse" x1="573.7" y1="391.8" x2="575.5" y2="356.6"><stop offset="0" stop-color="#6dff79"/><stop offset="0.5" stop-color="#84ff6d"/><stop offset="1" stop-color="#a8ff6d"/></linearGradient>
<linearGradient id="c365" gradientUnits="userSpaceOnUse" x1="603.6" y1="388.3" x2="604.8" y2="353.9"><stop offset="0" stop-color="#6bff6d"/><stop offset="0.5" stop-color="#8cff6b"/><stop offset="1" stop-color="#afff6b"/></linearGradient>
<linearGradient id="c366" gradientUnits="userSpaceOnUse" x1="633.6" y1="386.3" x2="634.1" y2="352.8"><stop offset="0" stop-color="#6cff69"/><stop offset="0.5" stop-color="#8fff69"/><stop offset="1" stop-color="#b1ff69"/></linearGradient>
<linearGradient id="c367" gradientUnits="userSpaceOnUse" x1="663.7" y1="385.7" x2="663.4" y2="353.1"><stop offset="0" stop-color="#6cff66"/><stop offset="0.5" stop-color="#8dff66"/><stop offset="1" stop-color="#afff66"/></linearGradient>
<linearGradient id="c368" gradientUnits="userSpaceOnUse" x1="693.7" y1="386.5" x2="692.7" y2="354.9"><stop offset="0" stop-color="#66ff63"/><stop offset="0.5" stop-color="#87ff63"/><stop offset="1" stop-color="#a8ff63"/></linearGradient>
<linearGradient id="c369" gradientUnits="userSpaceOnUse" x1="723.7" y1="388.8" x2="721.9" y2="358.1"><stop offset="0" stop-color="#60ff64"/><stop offset="0.5" stop-color="#7cff60"/><stop offset="1" stop-color="#9cff60"/></linearGradient>
<linearGradient id="c370" gradientUnits="userSpaceOnUse" x1="753.7" y1="392.6" x2="751.1" y2="362.8"><stop offset="0" stop-color="#5dff6d"/><stop offset="0.5" stop-color="#6cff5d"/><stop offset="1" stop-color="#8bff5d"/></linearGradient>
<linearGradient id="c371" gradientUnits="userSpaceOnUse" x1="783.6" y1="397.8" x2="780.2" y2="369.0"><stop offset="0" stop-color="#59ff7b"/><stop offset="0.5" stop-color="#59ff5c"/><stop offset="1" stop-color="#75ff59"/></linearGradient>
<linearGradient id="c372" gradientUnits="userSpaceOnUse" x1="588.2" y1="408.8" x2="589.9" y2="372.0"><stop offset="0" stop-color="#6eff9b"/><stop offset="0.5" stop-color="#6eff76"/><stop offset="1" stop-color="#8bff6e"/></linearGradient>
<linearGradient id="c373" gradientUnits="userSpaceOnUse" x1="618.3" y1="405.5" x2="619.3" y2="369.7"><stop offset="0" stop-color="#6cff90"/><stop offset="0.5" stop-color="#6cff6c"/><stop offset="1" stop-color="#90ff6c"/></linearGradient>
<linearGradient id="c374" gradientUnits="userSpaceOnUse" x1="648.4" y1="403.7" x2="648.7" y2="368.8"><stop offset="0" stop-color="#6aff8a"/><stop offset="0.5" stop-color="#6dff6a"/><stop offset="1" stop-color="#91ff6a"/></linearGradient>
<linearGradient id="c375" gradientUnits="userSpaceOnUse" x1="678.6" y1="403.4" x2="678.1" y2="369.4"><stop offset="0" stop-color="#67ff87"/><stop offset="0.5" stop-color="#6bff67"/><stop offset="1" stop-color="#8eff67"/></linearGradient>
<linearGradient id="c376" gradientUnits="userSpaceOnUse" x1="708.7" y1="404.5" x2="707.6" y2="371.4"><stop offset="0" stop-color="#64ff88"/><stop offset="0.5" stop-color="#64ff66"/><stop offset="1" stop-color="#86ff64"/></linearGradient>
<linearGradient id="c377" gradientUnits="userSpaceOnUse" x1="738.9" y1="407.1" x2="736.9" y2="375.0"><stop offset="0" stop-color="#61ff8e"/><stop offset="0.5" stop-color="#61ff6c"/><stop offset="1" stop-color="#78ff61"/></linearGradient>
<linearGradient id="c378" gradientUnits="userSpaceOnUse" x1="769.0" y1="411.2" x2="766.2" y2="380.0"><stop offset="0" stop-color="#5eff98"/><stop offset="0.5" stop-color="#5eff77"/><stop offset="1" stop-color="#66ff5e"/></linearGradient>
<linearGradient id="c379" gradientUnits="userSpaceOnUse" x1="602.8" y1="426.5" x2="604.4" y2="388.3"><stop offset="0" stop-color="#6effbf"/><stop offset="0.5" stop-color="#6eff98"/><stop offset="1" stop-color="#6eff71"/></linearGradient>
<linearGradient id="c380" gradientUnits="userSpaceOnUse" x1="633.0" y1="423.6" x2="633.9" y2="386.3"><stop offset="0" stop-color="#6dffb5"/><stop offset="0.5" stop-color="#6dff8f"/><stop offset="1" stop-color="#70ff6d"/></linearGradient>
<linearGradient id="c381" gradientUnits="userSpaceOnUse" x1="663.3" y1="422.1" x2="663.5" y2="385.7"><stop offset="0" stop-color="#6affb0"/><stop offset="0.5" stop-color="#6aff8b"/><stop offset="1" stop-color="#70ff6a"/></linearGradient>
<linearGradient id="c382" gradientUnits="userSpaceOnUse" x1="693.6" y1="422.0" x2="693.0" y2="386.5"><stop offset="0" stop-color="#68ffaf"/><stop offset="0.5" stop-color="#68ff8a"/><stop offset="1" stop-color="#6bff68"/></linearGradient>
<linearGradient id="c383" gradientUnits="userSpaceOnUse" x1="723.9" y1="423.5" x2="722.6" y2="388.9"><stop offset="0" stop-color="#65ffb1"/><stop offset="0.5" stop-color="#65ff8d"/><stop offset="1" stop-color="#65ff69"/></linearGradient>
<linearGradient id="c384" gradientUnits="userSpaceOnUse" x1="754.2" y1="426.3" x2="752.0" y2="392.7"><stop offset="0" stop-color="#63ffb9"/><stop offset="0.5" stop-color="#63ff96"/><stop offset="1" stop-color="#63ff72"/></linearGradient>
<linearGradient id="c385" gradientUnits="userSpaceOnUse" x1="617.6" y1="445.2" x2="619.1" y2="405.5"><stop offset="0" stop-color="#6fffe4"/><stop offset="0.5" stop-color="#6fffbb"/><stop offset="1" stop-color="#6fff93"/></linearGradient>
<linearGradient id="c386" gradientUnits="userSpaceOnUse" x1="647.9" y1="442.5" x2="648.7" y2="403.7"><stop offset="0" stop-color="#6dffdc"/><stop offset="0.5" stop-color="#6dffb4"/><stop offset="1" stop-color="#6dff8d"/></linearGradient>
<linearGradient id="c387" gradientUnits="userSpaceOnUse" x1="678.3" y1="441.3" x2="678.4" y2="403.4"><stop offset="0" stop-color="#6bffd8"/><stop offset="0.5" stop-color="#6bffb1"/><stop offset="1" stop-color="#6bff8a"/></linearGradient>
<linearGradient id="c388" gradientUnits="userSpaceOnUse" x1="708.8" y1="441.6" x2="708.0" y2="404.6"><stop offset="0" stop-color="#69ffd8"/><stop offset="0.5" stop-color="#69ffb2"/><stop offset="1" stop-color="#69ff8c"/></linearGradient>
<linearGradient id="c389" gradientUnits="userSpaceOnUse" x1="739.2" y1="443.3" x2="737.7" y2="407.2"><stop offset="0" stop-color="#66ffdc"/><stop offset="0.5" stop-color="#66ffb7"/><stop offset="1" stop-color="#66ff91"/></linearGradient>
<linearGradient id="c390" gradientUnits="userSpaceOnUse" x1="632.4" y1="464.8" x2="633.8" y2="423.6"><stop offset="0" stop-color="#70f3ff"/><stop offset="0.5" stop-color="#70ffe1"/><stop offset="1" stop-color="#70ffb7"/></linearGradient>
<linearGradient id="c391" gradientUnits="userSpaceOnUse" x1="663.0" y1="462.4" x2="663.6" y2="422.1"><stop offset="0" stop-color="#6efaff"/><stop offset="0.5" stop-color="#6effdb"/><stop offset="1" stop-color="#6effb2"/></linearGradient>
<linearGradient id="c392" gradientUnits="userSpaceOnUse" x1="693.5" y1="461.4" x2="693.4" y2="422.0"><stop offset="0" stop-color="#6cfcff"/><stop offset="0.5" stop-color="#6cffd9"/><stop offset="1" stop-color="#6cffb1"/></linearGradient>
<linearGradient id="c393" gradientUnits="userSpaceOnUse" x1="724.0" y1="462.0" x2="723.1" y2="423.5"><stop offset="0" stop-color="#6afbff"/><stop offset="0.5" stop-color="#6affdb"/><stop offset="1" stop-color="#6affb4"/></linearGradient>
<linearGradient id="c394" gradientUnits="userSpaceOnUse" x1="647.5" y1="485.2" x2="648.7" y2="442.6"><stop offset="0" stop-color="#70caff"/><stop offset="0.5" stop-color="#70f6ff"/><stop offset="1" stop-color="#70ffdd"/></linearGradient>
<linearGradient id="c395" gradientUnits="userSpaceOnUse" x1="678.1" y1="483.1" x2="678.6" y2="441.3"><stop offset="0" stop-color="#6ed0ff"/><stop offset="0.5" stop-color="#6efaff"/><stop offset="1" stop-color="#6effd9"/></linearGradient>
<linearGradient id="c396" gradientUnits="userSpaceOnUse" x1="708.8" y1="482.5" x2="708.5" y2="441.6"><stop offset="0" stop-color="#6dd1ff"/><stop offset="0.5" stop-color="#6dfbff"/><stop offset="1" stop-color="#6dffd9"/></linearGradient>
<linearGradient id="c397" gradientUnits="userSpaceOnUse" x1="662.6" y1="506.6" x2="663.7" y2="462.4"><stop offset="0" stop-color="#71a0ff"/><stop offset="0.5" stop-color="#71cdff"/><stop offset="1" stop-color="#71faff"/></linearGradient>
<linearGradient id="c398" gradientUnits="userSpaceOnUse" x1="693.4" y1="504.7" x2="693.7" y2="461.4"><stop offset="0" stop-color="#6fa4ff"/><stop offset="0.5" stop-color="#6fd0ff"/><stop offset="1" stop-color="#6ffcff"/></linearGradient>
<linearGradient id="c399" gradientUnits="userSpaceOnUse" x1="677.9" y1="528.8" x2="678.9" y2="483.1"><stop offset="0" stop-color="#7174ff"/><stop offset="0.5" stop-color="#71a2ff"/><stop offset="1" stop-color="#71d1ff"/></linearGradient></defs>
<rect x="57.5" y="171" width="64.5" height="25" fill="url(#lgd)" stroke="#2a2a4a" stroke-width="1"/>
<circle cx="20.3" cy="125.3" r="9.1" fill="#c00000" stroke="#6a1010" stroke-width="1.2"/>
<circle cx="20.3" cy="154.3" r="9.1" fill="#ffcccc" stroke="#7a6060" stroke-width="1.2"/>
<path d="M188,261.9H179.6V288.1H205.9V279.1" fill="none" stroke="#0a0a0a" stroke-width="3.6"/>
<path d="M191.8,276.2L203,265" fill="none" stroke="#0a0a0a" stroke-width="4"/>
<path d="M192.7,260.3H207.7V275.3Z" fill="#0a0a0a"/>
<g stroke-linecap="round">
<line x1="454.2" y1="179.4" x2="464.5" y2="448.5" stroke="#333" stroke-width="1.3"/>
<line x1="510.2" y1="166.7" x2="518.0" y2="429.9" stroke="#333" stroke-width="1.3"/>
<line x1="566.3" y1="154.0" x2="571.4" y2="411.2" stroke="#333" stroke-width="1.3"/>
<line x1="622.3" y1="141.3" x2="624.9" y2="392.6" stroke="#333" stroke-width="1.3"/>
<line x1="678.4" y1="128.6" x2="678.4" y2="374.0" stroke="#333" stroke-width="1.3"/>
<line x1="411.0" y1="467.1" x2="678.4" y2="374.0" stroke="#333" stroke-width="1.3"/>
<line x1="407.8" y1="398.4" x2="678.4" y2="312.6" stroke="#333" stroke-width="1.3"/>
<line x1="404.6" y1="329.6" x2="678.4" y2="251.3" stroke="#333" stroke-width="1.3"/>
<line x1="401.3" y1="260.9" x2="678.4" y2="189.9" stroke="#333" stroke-width="1.3"/>
<line x1="398.1" y1="192.1" x2="678.4" y2="128.6" stroke="#333" stroke-width="1.3"/>
<line x1="748.5" y1="144.5" x2="745.1" y2="397.2" stroke="#333" stroke-width="1.3"/>
<line x1="818.6" y1="160.3" x2="811.9" y2="420.4" stroke="#333" stroke-width="1.3"/>
<line x1="888.8" y1="176.2" x2="878.6" y2="443.7" stroke="#333" stroke-width="1.3"/>
<line x1="678.4" y1="374.0" x2="945.4" y2="466.9" stroke="#333" stroke-width="1.3"/>
<line x1="678.4" y1="312.6" x2="948.8" y2="398.2" stroke="#333" stroke-width="1.3"/>
<line x1="678.4" y1="251.3" x2="952.1" y2="329.5" stroke="#333" stroke-width="1.3"/>
<line x1="678.4" y1="189.9" x2="955.5" y2="260.8" stroke="#333" stroke-width="1.3"/>
<line x1="678.4" y1="128.6" x2="958.9" y2="192.1" stroke="#333" stroke-width="1.3"/>
<line x1="398.1" y1="192.1" x2="415.3" y2="552.8" stroke="#111" stroke-width="1.3"/>
<line x1="958.9" y1="192.1" x2="941.3" y2="553.1" stroke="#333" stroke-width="1.3"/>
</g>
<polygon points="415.3,552.8 678.4,679.4 941.3,553.1 678.4,455.5" fill="#646464" stroke="#000" stroke-width="1.6" stroke-linejoin="round"/>
<g fill="none" stroke-width="2.5" stroke-linecap="butt">
<path d="M645.9,663.0 649.1,663.1 651.8,663.2 654.5,663.3 657.3,663.4 660.0,663.5 662.7,663.6 665.5,663.7 668.2,663.7 671.1,663.8 674.2,663.9 677.2,664.0 680.3,664.0 683.3,664.1 686.4,664.1 689.4,664.2 692.4,664.2 695.4,664.2 698.3,664.2 701.3,664.2 704.2,664.3 707.2,664.3" stroke="#00b1ff"/>
<path d="M918.9,564.1 918.3,563.1 917.6,561.9 916.7,560.6 915.8,559.3 915.1,558.4 914.4,557.5 913.5,556.3 912.2,554.8 911.4,553.9 910.6,553.1 909.4,551.8 908.2,550.5 907.3,549.7 906.1,548.5 904.7,547.3 903.8,546.5 902.2,545.1 901.1,544.2 900.0,543.3 898.3,541.9 897.3,541.1 895.4,539.6 894.4,538.9 892.4,537.5 891.4,536.8 889.3,535.4 888.3,534.7 886.2,533.3" stroke="#00ff99"/>
<path d="M609.0,645.4 612.1,645.6 614.7,645.8 617.2,645.9 619.8,646.0 622.4,646.2 625.2,646.3 628.3,646.4 631.5,646.6 634.7,646.7 637.8,646.8 640.9,646.9 643.6,647.0 646.3,647.1 649.0,647.2 651.7,647.2 654.5,647.3 657.2,647.4 660.0,647.4 662.7,647.5 665.5,647.5 668.3,647.6 671.2,647.6 674.1,647.6 677.0,647.6 680.0,647.6 682.8,647.7 685.7,647.7 688.6,647.6 691.4,647.6 694.3,647.6 697.1,647.6 700.1,647.5 703.0,647.5 706.1,647.4 709.1,647.4 712.1,647.3 715.2,647.2 718.2,647.1 721.3,647.0 724.5,646.9 727.1,646.8 729.7,646.7 732.4,646.6 735.0,646.5 737.6,646.3 740.4,646.2 743.7,646.0 747.0,645.8" stroke="#00ff99"/>
<path d="M719.4,470.4 717.5,469.9 714.5,469.2 712.8,468.8 710.1,468.2 707.1,467.5 705.6,467.1 702.6,466.4 700.4,466.0 698.1,465.4 695.1,464.8 693.6,464.4 690.6,463.8 689.0,463.4 686.0,462.8 683.6,462.3 681.4,461.8 678.4,461.2 676.8,460.9 673.8,460.2 672.2,459.9 669.1,459.3 667.6,459.0" stroke="#00ff99"/>
<path d="M851.9,595.9 853.2,595.0 855.1,593.5 856.1,592.6 857.6,591.2 858.9,590.0 860.0,588.9 860.9,587.8 862.0,586.4 862.6,585.6 863.7,583.9 864.3,583.0 864.7,582.1 865.5,580.5 865.9,579.3 866.3,578.4 866.5,577.4 866.9,576.1 867.1,574.7 867.2,573.4 867.3,572.4 867.3,571.4 867.3,570.3 867.2,569.2 867.1,568.1 866.9,567.0 866.6,565.8 866.3,564.7 865.9,563.5 865.5,562.3 865.0,561.0 864.4,559.9 863.9,558.9 863.4,557.9 862.8,556.9 862.1,555.8 861.2,554.4 860.4,553.3 859.7,552.4 859.0,551.5 857.8,550.1 856.8,548.9 856.1,548.1 855.0,546.9 853.7,545.6 852.8,544.8 851.5,543.6 850.3,542.5 849.4,541.7 847.6,540.2 846.7,539.4 845.0,538.1 843.9,537.2 842.3,536.0 841.0,535.1 839.3,533.9 838.0,533.0 836.0,531.6 834.9,531.0 832.8,529.6 831.8,529.0 829.7,527.7 827.8,526.6 826.4,525.8 824.2,524.5 822.6,523.6 820.9,522.6 818.6,521.4 816.3,520.2 815.1,519.6 812.8,518.4 810.5,517.3 808.1,516.1 806.9,515.6 804.5,514.4 802.1,513.3 799.7,512.2 797.2,511.1 794.9,510.1 793.5,509.5 791.0,508.5 788.5,507.4 786.0,506.4 783.4,505.4 780.9,504.4 778.3,503.4 775.7,502.4 773.1,501.4 770.5,500.4 767.9,499.5 765.2,498.5 762.5,497.6 759.9,496.7 757.3,495.8 755.8,495.3 753.1,494.4 750.4,493.5 747.7,492.6 744.9,491.7 742.2,490.9 740.8,490.4 738.0,489.6 735.2,488.7 732.4,487.9 729.6,487.1 728.2,486.7 725.4,485.9 722.6,485.0 719.7,484.2 718.3,483.8 715.4,483.1 712.5,482.3 711.1,481.9 708.2,481.1 705.3,480.4 703.4,479.9 700.9,479.2 698.0,478.5 696.3,478.1 693.6,477.4 690.6,476.7 689.1,476.3 686.1,475.6 683.3,474.9 681.7,474.5 678.7,473.8 677.1,473.5 674.1,472.8 671.4,472.2 669.6,471.8 666.5,471.1 665.0,470.8 661.9,470.1 660.4,469.8 657.3,469.2 655.3,468.7 652.7,468.2 650.2,467.7 648.0,467.3" stroke="#17ff00"/>
<path d="M568.1,626.0 570.8,626.2 573.2,626.4 575.6,626.6 578.2,626.8 581.5,627.0 584.8,627.2 587.8,627.4 590.3,627.6 592.7,627.7 595.2,627.8 597.7,628.0 600.9,628.2 604.1,628.3 607.3,628.5 610.4,628.6 613.0,628.7 615.6,628.8 618.2,628.9 620.8,629.0 623.5,629.1 626.1,629.2 628.8,629.3 631.9,629.4 634.8,629.5 637.8,629.5 640.8,629.6 643.7,629.6 646.6,629.7 649.5,629.7 652.4,629.7 655.3,629.7 658.1,629.7 661.0,629.7 663.8,629.7 666.6,629.7 669.4,629.7 672.1,629.7 674.9,629.6 677.6,629.6 680.3,629.5 683.0,629.5 685.7,629.4 688.4,629.3 691.2,629.2 694.3,629.1 697.3,629.0 700.5,628.9 703.6,628.7 706.6,628.6 709.1,628.5 711.6,628.3 714.1,628.2 716.6,628.0 719.8,627.8 723.1,627.6 726.3,627.3 728.7,627.1 731.1,626.9 733.5,626.7 736.9,626.4 740.5,626.1 742.8,625.8 745.0,625.6 747.8,625.3 751.5,624.9 754.0,624.6 756.2,624.3 759.2,623.9 762.7,623.4 764.8,623.1 767.3,622.8 771.1,622.2 773.1,621.9 775.7,621.4 779.2,620.9 781.2,620.5 784.8,619.8 787.0,619.4 789.6,618.9 792.7,618.2 794.7,617.8 798.2,617.0 800.1,616.5 803.6,615.7 806.0,615.1 808.7,614.4 812.1,613.4 813.7,612.9 817.0,612.0 820.1,610.9" stroke="#17ff00"/>
<path d="M518.0,602.2 520.8,602.5 523.0,602.8 525.3,603.0 528.9,603.4 531.7,603.7 533.9,603.9 536.2,604.2 539.4,604.5 542.9,604.8 545.2,605.0 547.4,605.2 549.7,605.4 553.1,605.7 556.4,606.0 559.0,606.2 561.3,606.4 563.7,606.5 566.3,606.7 569.6,607.0 572.8,607.2 575.7,607.3 578.1,607.5 580.5,607.6 583.0,607.8 585.5,607.9 588.6,608.1 591.7,608.2 594.7,608.3 597.8,608.4 600.6,608.6 603.1,608.6 605.7,608.7 608.3,608.8 610.9,608.9 613.6,608.9 616.2,609.0 618.9,609.0 621.6,609.1 624.3,609.1 627.0,609.1 629.8,609.1 632.6,609.1 635.3,609.1 638.2,609.1 641.0,609.1 643.9,609.0 646.7,609.0 649.7,608.9 652.6,608.9 655.6,608.8 658.6,608.7 661.6,608.6 664.4,608.5 666.9,608.3 669.4,608.2 671.9,608.1 674.3,608.0 677.2,607.8 680.5,607.6 683.8,607.3 686.4,607.1 688.7,607.0 691.0,606.8 694.0,606.5 697.5,606.2 700.1,605.9 702.4,605.7 704.7,605.4 708.5,605.0 711.1,604.6 713.2,604.4 716.3,603.9 719.5,603.5 721.5,603.2 724.6,602.7 727.6,602.2 729.5,601.8 733.4,601.1 735.3,600.8 738.5,600.1 740.9,599.6 743.7,599.0 746.3,598.4 749.6,597.6 751.5,597.1 754.8,596.2 756.5,595.7 759.7,594.8 762.8,593.8 765.3,592.9 767.3,592.2 770.2,591.1 773.0,590.0 775.6,588.9 778.2,587.7 780.7,586.4 783.0,585.2 785.0,584.0 786.3,583.2 788.3,581.8 790.2,580.4 791.2,579.6 792.9,578.1 793.7,577.3 795.2,575.7 795.9,574.9 796.9,573.7 797.8,572.4 798.3,571.6 799.0,570.3 799.7,568.9 800.0,567.9 800.4,567.0 800.6,566.0 800.9,564.7 801.0,563.4 801.1,562.2 801.1,561.0 801.0,559.9 800.9,558.8 800.7,557.7 800.4,556.6 800.1,555.6 799.7,554.6 799.3,553.6 798.9,552.6 798.2,551.3 797.5,550.0 796.8,548.9 796.2,548.0 795.6,547.1 794.5,545.7 793.6,544.6 792.9,543.8 791.8,542.5 790.6,541.4 789.8,540.6 788.3,539.1 787.4,538.3 786.2,537.3 784.8,536.1 783.9,535.3 782.0,533.9 781.1,533.2 779.2,531.8 778.1,531.1 776.2,529.8 774.4,528.6 773.2,527.8 771.1,526.5 770.0,525.9 767.9,524.6 765.7,523.4 764.6,522.8 762.4,521.6 760.2,520.4 757.9,519.2 756.8,518.7 754.4,517.5 752.1,516.4 749.7,515.3 747.3,514.2 745.0,513.1 743.7,512.6 741.2,511.5 738.8,510.5 736.3,509.4 733.8,508.4 731.2,507.4 728.7,506.4 726.1,505.4 723.5,504.5 720.9,503.5 718.2,502.6 715.6,501.6 714.2,501.2 711.5,500.2 708.8,499.3 706.1,498.4 703.4,497.6 700.7,496.7 699.3,496.3 696.5,495.4 693.7,494.6 690.9,493.7 688.9,493.1 686.7,492.5 683.8,491.7 681.0,490.9 679.5,490.5 676.6,489.7 673.7,488.9 672.0,488.4 669.4,487.7 666.4,487.0 664.9,486.6 662.0,485.9 659.0,485.1 657.5,484.8 654.5,484.1 652.0,483.5 650.0,483.0 647.0,482.3 645.5,481.9 642.4,481.3 640.5,480.8 637.8,480.2 635.2,479.7 633.2,479.2 630.1,478.6 628.5,478.3 625.4,477.6 623.8,477.3 620.6,476.7" stroke="#c8ff00"/>
<path d="M440.4,565.3 442.4,565.8 445.5,566.5 447.4,566.9 450.5,567.6 452.5,568.0 455.4,568.6 457.7,569.1 460.1,569.6 463.0,570.2 464.8,570.5 468.4,571.2 470.2,571.5 473.5,572.1 475.7,572.5 477.8,572.9 481.3,573.5 483.2,573.8 486.1,574.3 488.9,574.7 490.8,575.0 494.1,575.5 496.7,575.9 498.7,576.2 501.8,576.6 504.6,577.0 506.7,577.3 509.4,577.6 512.8,578.1 514.8,578.3 516.9,578.6 520.3,578.9 523.2,579.3 525.4,579.5 527.5,579.7 530.7,580.1 534.0,580.4 536.2,580.6 538.4,580.8 540.8,581.0 544.1,581.3 547.4,581.5 549.7,581.7 552.0,581.8 554.3,582.0 556.9,582.2 560.0,582.4 563.1,582.5 566.1,582.7 568.6,582.8 571.0,582.9 573.5,583.0 576.0,583.1 578.5,583.2 581.0,583.3 583.8,583.3 586.6,583.4 589.4,583.4 592.2,583.5 595.0,583.5 597.7,583.5 600.4,583.5 603.0,583.5 605.7,583.4 608.3,583.4 610.9,583.3 613.4,583.3 616.4,583.2 619.3,583.1 622.4,582.9 625.4,582.8 628.2,582.6 630.6,582.5 632.9,582.3 635.2,582.1 638.3,581.9 641.7,581.6 644.2,581.4 646.4,581.1 648.8,580.9 652.6,580.4 654.9,580.1 657.0,579.8 660.5,579.3 663.0,578.9 664.9,578.6 668.7,577.9 670.6,577.6 674.2,576.8 676.0,576.4 679.5,575.6 681.2,575.2 684.5,574.3 687.6,573.4 689.2,572.9 692.2,571.9 695.0,570.8 697.7,569.7 700.3,568.5 702.7,567.3 705.0,566.0 706.1,565.4 708.1,564.0 709.5,562.9 710.8,561.8 711.9,560.7 713.1,559.4 713.7,558.6 714.6,557.3 715.3,556.0 715.7,555.1 716.1,554.1 716.4,553.2 716.6,552.0 716.7,550.8 716.7,549.7 716.6,548.6 716.4,547.6 716.2,546.6 715.8,545.4 715.3,544.1 714.7,542.8 714.2,541.9 713.6,541.1 712.9,540.0 711.8,538.6 711.1,537.8 710.2,536.8 708.9,535.5 708.2,534.7 706.5,533.3 705.7,532.5 703.9,531.1 703.0,530.4 701.2,529.1 700.2,528.4 698.3,527.1 696.6,526.1 695.3,525.2 693.2,524.0 691.0,522.8 689.9,522.2 687.7,521.0 685.5,519.9 683.2,518.8 680.9,517.7 679.7,517.1 677.3,516.1 674.9,515.0 672.4,514.0 669.9,512.9 667.4,511.9 664.9,511.0 662.3,510.0 659.7,509.0 658.3,508.6 655.7,507.7 653.0,506.7 650.3,505.8 647.6,505.0 644.8,504.1 643.4,503.7 640.6,502.8 637.8,502.0 635.3,501.3 633.5,500.8 630.6,499.9 627.7,499.2 626.2,498.8 623.3,498.0 620.7,497.3 618.8,496.9 615.8,496.1 614.3,495.8 611.2,495.0 608.6,494.4 606.6,494.0 603.5,493.3 602.0,493.0 598.8,492.3 597.2,492.0 594.1,491.3 592.5,491.0 589.3,490.3 587.6,490.0" stroke="#ff8500"/>
</g>
<circle cx="411.0" cy="467.1" r="2.6" fill="#000"/>
<circle cx="407.8" cy="398.4" r="2.6" fill="#000"/>
<circle cx="404.6" cy="329.6" r="2.6" fill="#000"/>
<circle cx="401.3" cy="260.9" r="2.6" fill="#000"/>
<circle cx="398.1" cy="192.1" r="2.6" fill="#000"/>
<circle cx="678.4" cy="679.4" r="2.6" fill="#000"/>
<circle cx="612.6" cy="647.8" r="2.6" fill="#000"/>
<circle cx="546.9" cy="616.1" r="2.6" fill="#000"/>
<circle cx="481.1" cy="584.4" r="2.6" fill="#000"/>
<circle cx="415.3" cy="552.8" r="2.6" fill="#000"/>
<circle cx="678.4" cy="679.4" r="2.6" fill="#000"/>
<circle cx="731.0" cy="654.1" r="2.6" fill="#000"/>
<circle cx="783.6" cy="628.9" r="2.6" fill="#000"/>
<circle cx="836.1" cy="603.6" r="2.6" fill="#000"/>
<circle cx="888.7" cy="578.4" r="2.6" fill="#000"/>
<circle cx="941.3" cy="553.1" r="2.6" fill="#000"/>
<line x1="823.9" y1="382.3" x2="823.9" y2="368.3" stroke="#222" stroke-width="1"/>
<circle cx="400.7" cy="257.9" r="5.6" fill="#ffcccc" stroke="#6b4a4a" stroke-width="1"/>
<circle cx="678.4" cy="530.5" r="5.6" fill="#ffcccc" stroke="#6b4a4a" stroke-width="1"/>
<circle cx="823.9" cy="382.3" r="5.6" fill="#ffcccc" stroke="#6b4a4a" stroke-width="1"/>
<clipPath id="cpd"><path d="M530,170H572V200.3L530,193.6z"/></clipPath>
<g clip-path="url(#cpd)"><circle cx="547.8" cy="193.8" r="5.4" fill="#c00000" stroke="#700000" stroke-width="1"/></g>
<g stroke="#050505" stroke-width="0.9" stroke-linejoin="round">
<path d="M678.4,273.7 690.6,288.3 678.4,290.2 666.1,275.4z" fill="url(#c1)"/>
<path d="M665.9,260.3 678.4,273.7 666.1,275.4 653.7,261.7z" fill="url(#c2)"/>
<path d="M690.8,272.6 702.9,286.9 690.6,288.3 678.4,273.7z" fill="url(#c3)"/>
<path d="M653.3,248.0 665.9,260.3 653.7,261.7 641.0,249.2z" fill="url(#c4)"/>
<path d="M678.4,259.5 690.8,272.6 678.4,273.7 665.9,260.3z" fill="url(#c5)"/>
<path d="M703.3,272.1 715.5,286.1 702.9,286.9 690.8,272.6z" fill="url(#c6)"/>
<path d="M640.4,237.0 653.3,248.0 641.0,249.2 628.1,237.8z" fill="url(#c7)"/>
<path d="M665.7,247.5 678.4,259.5 665.9,260.3 653.3,248.0z" fill="url(#c8)"/>
<path d="M690.9,259.3 703.3,272.1 690.8,272.6 678.4,259.5z" fill="url(#c9)"/>
<path d="M716.0,272.2 728.2,285.9 715.5,286.1 703.3,272.1z" fill="url(#c10)"/>
<path d="M627.4,227.2 640.4,237.0 628.1,237.8 615.0,227.7z" fill="url(#c11)"/>
<path d="M652.9,236.8 665.7,247.5 653.3,248.0 640.4,237.0z" fill="url(#c12)"/>
<path d="M678.4,247.7 690.9,259.3 678.4,259.5 665.7,247.5z" fill="url(#c13)"/>
<path d="M703.7,259.7 716.0,272.2 703.3,272.1 690.9,259.3z" fill="url(#c14)"/>
<path d="M728.9,273.0 741.0,286.4 728.2,285.9 716.0,272.2z" fill="url(#c15)"/>
<path d="M614.1,218.8 627.4,227.2 615.0,227.7 601.8,218.9z" fill="url(#c16)"/>
<path d="M639.9,227.4 652.9,236.8 640.4,237.0 627.4,227.2z" fill="url(#c17)"/>
<path d="M665.6,237.3 678.4,247.7 665.7,247.5 652.9,236.8z" fill="url(#c18)"/>
<path d="M691.1,248.4 703.7,259.7 690.9,259.3 678.4,247.7z" fill="url(#c19)"/>
<path d="M716.6,260.8 728.9,273.0 716.0,272.2 703.7,259.7z" fill="url(#c20)"/>
<path d="M741.9,274.4 754.0,287.5 741.0,286.4 728.9,273.0z" fill="url(#c21)"/>
<path d="M600.7,211.6 614.1,218.8 601.8,218.9 588.3,211.4z" fill="url(#c22)"/>
<path d="M626.6,219.3 639.9,227.4 627.4,227.2 614.1,218.8z" fill="url(#c23)"/>
<path d="M652.5,228.2 665.6,237.3 652.9,236.8 639.9,227.4z" fill="url(#c24)"/>
<path d="M678.4,238.4 691.1,248.4 678.4,247.7 665.6,237.3z" fill="url(#c25)"/>
<path d="M704.1,249.9 716.6,260.8 703.7,259.7 691.1,248.4z" fill="url(#c26)"/>
<path d="M729.7,262.6 741.9,274.4 728.9,273.0 716.6,260.8z" fill="url(#c27)"/>
<path d="M755.1,276.5 767.1,289.2 754.0,287.5 741.9,274.4z" fill="url(#c28)"/>
<path d="M587.1,205.9 600.7,211.6 588.3,211.4 574.7,205.3z" fill="url(#c29)"/>
<path d="M613.2,212.5 626.6,219.3 614.1,218.8 600.7,211.6z" fill="url(#c30)"/>
<path d="M639.3,220.4 652.5,228.2 639.9,227.4 626.6,219.3z" fill="url(#c31)"/>
<path d="M665.4,229.7 678.4,238.4 665.6,237.3 652.5,228.2z" fill="url(#c32)"/>
<path d="M691.3,240.2 704.1,249.9 691.1,248.4 678.4,238.4z" fill="url(#c33)"/>
<path d="M717.2,252.0 729.7,262.6 716.6,260.8 704.1,249.9z" fill="url(#c34)"/>
<path d="M742.9,265.0 755.1,276.5 741.9,274.4 729.7,262.6z" fill="url(#c35)"/>
<path d="M768.4,279.2 780.4,291.6 767.1,289.2 755.1,276.5z" fill="url(#c36)"/>
<path d="M573.2,201.5 587.1,205.9 574.7,205.3 560.8,200.6z" fill="url(#c37)"/>
<path d="M599.6,207.1 613.2,212.5 600.7,211.6 587.1,205.9z" fill="url(#c38)"/>
<path d="M625.9,214.0 639.3,220.4 626.6,219.3 613.2,212.5z" fill="url(#c39)"/>
<path d="M652.2,222.3 665.4,229.7 652.5,228.2 639.3,220.4z" fill="url(#c40)"/>
<path d="M678.4,231.8 691.3,240.2 678.4,238.4 665.4,229.7z" fill="url(#c41)"/>
<path d="M704.4,242.6 717.2,252.0 704.1,249.9 691.3,240.2z" fill="url(#c42)"/>
<path d="M730.4,254.7 742.9,265.0 729.7,262.6 717.2,252.0z" fill="url(#c43)"/>
<path d="M756.2,268.1 768.4,279.2 755.1,276.5 742.9,265.0z" fill="url(#c44)"/>
<path d="M781.9,282.7 793.8,294.7 780.4,291.6 768.4,279.2z" fill="url(#c45)"/>
<path d="M559.3,198.6 573.2,201.5 560.8,200.6 546.9,197.2z" fill="url(#c46)"/>
<path d="M585.8,203.1 599.6,207.1 587.1,205.9 573.2,201.5z" fill="url(#c47)"/>
<path d="M612.3,209.0 625.9,214.0 613.2,212.5 599.6,207.1z" fill="url(#c48)"/>
<path d="M638.8,216.3 652.2,222.3 639.3,220.4 625.9,214.0z" fill="url(#c49)"/>
<path d="M665.2,224.8 678.4,231.8 665.4,229.7 652.2,222.3z" fill="url(#c50)"/>
<path d="M691.5,234.7 704.4,242.6 691.3,240.2 678.4,231.8z" fill="url(#c51)"/>
<path d="M717.7,245.8 730.4,254.7 717.2,252.0 704.4,242.6z" fill="url(#c52)"/>
<path d="M743.8,258.2 756.2,268.1 742.9,265.0 730.4,254.7z" fill="url(#c53)"/>
<path d="M769.7,271.9 781.9,282.7 768.4,279.2 756.2,268.1z" fill="url(#c54)"/>
<path d="M795.5,286.8 807.4,298.5 793.8,294.7 781.9,282.7z" fill="url(#c55)"/>
<path d="M545.1,197.2 559.3,198.6 546.9,197.2 532.7,195.4z" fill="url(#c56)"/>
<path d="M571.9,200.6 585.8,203.1 573.2,201.5 559.3,198.6z" fill="url(#c57)"/>
<path d="M598.6,205.5 612.3,209.0 599.6,207.1 585.8,203.1z" fill="url(#c58)"/>
<path d="M625.2,211.7 638.8,216.3 625.9,214.0 612.3,209.0z" fill="url(#c59)"/>
<path d="M651.8,219.2 665.2,224.8 652.2,222.3 638.8,216.3z" fill="url(#c60)"/>
<path d="M678.4,228.0 691.5,234.7 678.4,231.8 665.2,224.8z" fill="url(#c61)"/>
<path d="M704.8,238.2 717.7,245.8 704.4,242.6 691.5,234.7z" fill="url(#c62)"/>
<path d="M731.1,249.6 743.8,258.2 730.4,254.7 717.7,245.8z" fill="url(#c63)"/>
<path d="M757.3,262.4 769.7,271.9 756.2,268.1 743.8,258.2z" fill="url(#c64)"/>
<path d="M783.4,276.4 795.5,286.8 781.9,282.7 769.7,271.9z" fill="url(#c65)"/>
<path d="M809.2,291.6 821.1,302.9 807.4,298.5 795.5,286.8z" fill="url(#c66)"/>
<path d="M530.9,197.2 545.1,197.2 532.7,195.4 518.4,195.0z" fill="url(#c67)"/>
<path d="M557.7,199.6 571.9,200.6 559.3,198.6 545.1,197.2z" fill="url(#c68)"/>
<path d="M584.6,203.4 598.6,205.5 585.8,203.1 571.9,200.6z" fill="url(#c69)"/>
<path d="M611.5,208.5 625.2,211.7 612.3,209.0 598.6,205.5z" fill="url(#c70)"/>
<path d="M638.3,215.0 651.8,219.2 638.8,216.3 625.2,211.7z" fill="url(#c71)"/>
<path d="M665.0,222.8 678.4,228.0 665.2,224.8 651.8,219.2z" fill="url(#c72)"/>
<path d="M691.7,232.0 704.8,238.2 691.5,234.7 678.4,228.0z" fill="url(#c73)"/>
<path d="M718.2,242.4 731.1,249.6 717.7,245.8 704.8,238.2z" fill="url(#c74)"/>
<path d="M744.7,254.2 757.3,262.4 743.8,258.2 731.1,249.6z" fill="url(#c75)"/>
<path d="M771.0,267.3 783.4,276.4 769.7,271.9 757.3,262.4z" fill="url(#c76)"/>
<path d="M797.1,281.6 809.2,291.6 795.5,286.8 783.4,276.4z" fill="url(#c77)"/>
<path d="M823.1,297.1 834.9,308.0 821.1,302.9 809.2,291.6z" fill="url(#c78)"/>
<path d="M516.4,198.8 530.9,197.2 518.4,195.0 504.0,196.2z" fill="url(#c79)"/>
<path d="M543.4,200.1 557.7,199.6 545.1,197.2 530.9,197.2z" fill="url(#c80)"/>
<path d="M570.5,202.8 584.6,203.4 571.9,200.6 557.7,199.6z" fill="url(#c81)"/>
<path d="M597.5,206.9 611.5,208.5 598.6,205.5 584.6,203.4z" fill="url(#c82)"/>
<path d="M624.5,212.3 638.3,215.0 625.2,211.7 611.5,208.5z" fill="url(#c83)"/>
<path d="M651.5,219.1 665.0,222.8 651.8,219.2 638.3,215.0z" fill="url(#c84)"/>
<path d="M678.4,227.2 691.7,232.0 678.4,228.0 665.0,222.8z" fill="url(#c85)"/>
<path d="M705.2,236.6 718.2,242.4 704.8,238.2 691.7,232.0z" fill="url(#c86)"/>
<path d="M731.8,247.4 744.7,254.2 731.1,249.6 718.2,242.4z" fill="url(#c87)"/>
<path d="M758.4,259.5 771.0,267.3 757.3,262.4 744.7,254.2z" fill="url(#c88)"/>
<path d="M784.8,272.9 797.1,281.6 783.4,276.4 771.0,267.3z" fill="url(#c89)"/>
<path d="M811.1,287.5 823.1,297.1 809.2,291.6 797.1,281.6z" fill="url(#c90)"/>
<path d="M837.1,303.4 848.9,313.9 834.9,308.0 823.1,297.1z" fill="url(#c91)"/>
<path d="M501.9,202.0 516.4,198.8 504.0,196.2 489.4,198.9z" fill="url(#c92)"/>
<path d="M529.0,202.2 543.4,200.1 530.9,197.2 516.4,198.8z" fill="url(#c93)"/>
<path d="M556.2,203.8 570.5,202.8 557.7,199.6 543.4,200.1z" fill="url(#c94)"/>
<path d="M583.4,206.7 597.5,206.9 584.6,203.4 570.5,202.8z" fill="url(#c95)"/>
<path d="M610.6,211.1 624.5,212.3 611.5,208.5 597.5,206.9z" fill="url(#c96)"/>
<path d="M637.7,216.8 651.5,219.1 638.3,215.0 624.5,212.3z" fill="url(#c97)"/>
<path d="M664.8,223.8 678.4,227.2 665.0,222.8 651.5,219.1z" fill="url(#c98)"/>
<path d="M691.9,232.3 705.2,236.6 691.7,232.0 678.4,227.2z" fill="url(#c99)"/>
<path d="M718.8,242.0 731.8,247.4 718.2,242.4 705.2,236.6z" fill="url(#c100)"/>
<path d="M745.6,253.1 758.4,259.5 744.7,254.2 731.8,247.4z" fill="url(#c101)"/>
<path d="M772.3,265.5 784.8,272.9 771.0,267.3 758.4,259.5z" fill="url(#c102)"/>
<path d="M798.8,279.2 811.1,287.5 797.1,281.6 784.8,272.9z" fill="url(#c103)"/>
<path d="M825.1,294.1 837.1,303.4 823.1,297.1 811.1,287.5z" fill="url(#c104)"/>
<path d="M851.3,310.3 863.0,320.5 848.9,313.9 837.1,303.4z" fill="url(#c105)"/>
<path d="M487.2,206.7 501.9,202.0 489.4,198.9 474.8,203.2z" fill="url(#c106)"/>
<path d="M514.5,205.8 529.0,202.2 516.4,198.8 501.9,202.0z" fill="#ff2c2c"/>
<path d="M541.8,206.3 556.2,203.8 543.4,200.1 529.0,202.2z" fill="url(#c107)"/>
<path d="M569.1,208.1 583.4,206.7 570.5,202.8 556.2,203.8z" fill="url(#c108)"/>
<path d="M596.5,211.4 610.6,211.1 597.5,206.9 583.4,206.7z" fill="url(#c109)"/>
<path d="M623.8,216.0 637.7,216.8 624.5,212.3 610.6,211.1z" fill="url(#c110)"/>
<path d="M651.1,222.0 664.8,223.8 651.5,219.1 637.7,216.8z" fill="url(#c111)"/>
<path d="M678.4,229.4 691.9,232.3 678.4,227.2 664.8,223.8z" fill="url(#c112)"/>
<path d="M705.5,238.1 718.8,242.0 705.2,236.6 691.9,232.3z" fill="url(#c113)"/>
<path d="M732.6,248.2 745.6,253.1 731.8,247.4 718.8,242.0z" fill="url(#c114)"/>
<path d="M759.5,259.6 772.3,265.5 758.4,259.5 745.6,253.1z" fill="url(#c115)"/>
<path d="M786.3,272.3 798.8,279.2 784.8,272.9 772.3,265.5z" fill="url(#c116)"/>
<path d="M812.9,286.3 825.1,294.1 811.1,287.5 798.8,279.2z" fill="url(#c117)"/>
<path d="M839.3,301.5 851.3,310.3 837.1,303.4 825.1,294.1z" fill="url(#c118)"/>
<path d="M865.5,318.1 877.2,327.8 863.0,320.5 851.3,310.3z" fill="url(#c119)"/>
<path d="M472.4,213.1 487.2,206.7 474.8,203.2 460.0,209.1z" fill="url(#c120)"/>
<path d="M499.8,211.1 514.5,205.8 501.9,202.0 487.2,206.7z" fill="url(#c121)"/>
<path d="M527.2,210.4 541.8,206.3 529.0,202.2 514.5,205.8z" fill="url(#c122)"/>
<path d="M554.7,211.1 569.1,208.1 556.2,203.8 541.8,206.3z" fill="url(#c123)"/>
<path d="M582.2,213.2 596.5,211.4 583.4,206.7 569.1,208.1z" fill="url(#c124)"/>
<path d="M609.8,216.8 623.8,216.0 610.6,211.1 596.5,211.4z" fill="url(#c125)"/>
<path d="M637.2,221.7 651.1,222.0 637.7,216.8 623.8,216.0z" fill="url(#c126)"/>
<path d="M664.7,228.0 678.4,229.4 664.8,223.8 651.1,222.0z" fill="url(#c127)"/>
<path d="M692.0,235.7 705.5,238.1 691.9,232.3 678.4,229.4z" fill="url(#c128)"/>
<path d="M719.3,244.7 732.6,248.2 718.8,242.0 705.5,238.1z" fill="url(#c129)"/>
<path d="M746.5,255.1 759.5,259.6 745.6,253.1 732.6,248.2z" fill="url(#c130)"/>
<path d="M773.5,266.8 786.3,272.3 772.3,265.5 759.5,259.6z" fill="url(#c131)"/>
<path d="M800.4,279.8 812.9,286.3 798.8,279.2 786.3,272.3z" fill="url(#c132)"/>
<path d="M827.1,294.1 839.3,301.5 825.1,294.1 812.9,286.3z" fill="url(#c133)"/>
<path d="M853.6,309.7 865.5,318.1 851.3,310.3 839.3,301.5z" fill="url(#c134)"/>
<path d="M879.9,326.5 891.5,335.8 877.2,327.8 865.5,318.1z" fill="url(#c135)"/>
<path d="M457.5,221.1 472.4,213.1 460.0,209.1 445.1,216.6z" fill="url(#c136)"/>
<path d="M485.0,217.9 499.8,211.1 487.2,206.7 472.4,213.1z" fill="url(#c137)"/>
<path d="M512.6,216.1 527.2,210.4 514.5,205.8 499.8,211.1z" fill="url(#c138)"/>
<path d="M540.2,215.7 554.7,211.1 541.8,206.3 527.2,210.4z" fill="url(#c139)"/>
<path d="M567.8,216.7 582.2,213.2 569.1,208.1 554.7,211.1z" fill="url(#c140)"/>
<path d="M595.5,219.1 609.8,216.8 596.5,211.4 582.2,213.2z" fill="url(#c141)"/>
<path d="M623.2,222.9 637.2,221.7 623.8,216.0 609.8,216.8z" fill="url(#c142)"/>
<path d="M650.8,228.1 664.7,228.0 651.1,222.0 637.2,221.7z" fill="url(#c143)"/>
<path d="M678.4,234.7 692.0,235.7 678.4,229.4 664.7,228.0z" fill="url(#c144)"/>
<path d="M705.9,242.7 719.3,244.7 705.5,238.1 692.0,235.7z" fill="url(#c145)"/>
<path d="M733.3,252.0 746.5,255.1 732.6,248.2 719.3,244.7z" fill="url(#c146)"/>
<path d="M760.5,262.7 773.5,266.8 759.5,259.6 746.5,255.1z" fill="url(#c147)"/>
<path d="M787.7,274.7 800.4,279.8 786.3,272.3 773.5,266.8z" fill="url(#c148)"/>
<path d="M814.7,288.1 827.1,294.1 812.9,286.3 800.4,279.8z" fill="url(#c149)"/>
<path d="M841.5,302.7 853.6,309.7 839.3,301.5 827.1,294.1z" fill="url(#c150)"/>
<path d="M868.1,318.6 879.9,326.5 865.5,318.1 853.6,309.7z" fill="url(#c151)"/>
<path d="M894.5,335.7 906.0,344.6 891.5,335.8 879.9,326.5z" fill="url(#c152)"/>
<path d="M442.5,230.8 457.5,221.1 445.1,216.6 430.1,225.7z" fill="url(#c153)"/>
<path d="M470.1,226.4 485.0,217.9 472.4,213.1 457.5,221.1z" fill="url(#c154)"/>
<path d="M497.8,223.5 512.6,216.1 499.8,211.1 485.0,217.9z" fill="url(#c155)"/>
<path d="M525.5,221.9 540.2,215.7 527.2,210.4 512.6,216.1z" fill="url(#c156)"/>
<path d="M553.3,221.8 567.8,216.7 554.7,211.1 540.2,215.7z" fill="url(#c157)"/>
<path d="M581.1,223.1 595.5,219.1 582.2,213.2 567.8,216.7z" fill="url(#c158)"/>
<path d="M608.9,225.8 623.2,222.9 609.8,216.8 595.5,219.1z" fill="url(#c159)"/>
<path d="M636.7,229.9 650.8,228.1 637.2,221.7 623.2,222.9z" fill="url(#c160)"/>
<path d="M664.5,235.4 678.4,234.7 664.7,228.0 650.8,228.1z" fill="url(#c161)"/>
<path d="M692.2,242.3 705.9,242.7 692.0,235.7 678.4,234.7z" fill="url(#c162)"/>
<path d="M719.8,250.5 733.3,252.0 719.3,244.7 705.9,242.7z" fill="url(#c163)"/>
<path d="M747.3,260.2 760.5,262.7 746.5,255.1 733.3,252.0z" fill="url(#c164)"/>
<path d="M774.7,271.1 787.7,274.7 773.5,266.8 760.5,262.7z" fill="url(#c165)"/>
<path d="M802.0,283.5 814.7,288.1 800.4,279.8 787.7,274.7z" fill="url(#c166)"/>
<path d="M829.1,297.1 841.5,302.7 827.1,294.1 814.7,288.1z" fill="url(#c167)"/>
<path d="M855.9,312.1 868.1,318.6 853.6,309.7 841.5,302.7z" fill="url(#c168)"/>
<path d="M882.6,328.3 894.5,335.7 879.9,326.5 868.1,318.6z" fill="url(#c169)"/>
<path d="M909.1,345.7 920.6,354.1 906.0,344.6 894.5,335.7z" fill="url(#c170)"/>
<path d="M427.4,242.1 442.5,230.8 430.1,225.7 415.0,236.6z" fill="url(#c171)"/>
<path d="M455.1,236.6 470.1,226.4 457.5,221.1 442.5,230.8z" fill="url(#c172)"/>
<path d="M482.9,232.5 497.8,223.5 485.0,217.9 470.1,226.4z" fill="url(#c173)"/>
<path d="M510.7,229.8 525.5,221.9 512.6,216.1 497.8,223.5z" fill="url(#c174)"/>
<path d="M538.6,228.5 553.3,221.8 540.2,215.7 525.5,221.9z" fill="url(#c175)"/>
<path d="M566.6,228.7 581.1,223.1 567.8,216.7 553.3,221.8z" fill="url(#c176)"/>
<path d="M594.5,230.2 608.9,225.8 595.5,219.1 581.1,223.1z" fill="url(#c177)"/>
<path d="M622.5,233.2 636.7,229.9 623.2,222.9 608.9,225.8z" fill="url(#c178)"/>
<path d="M650.5,237.6 664.5,235.4 650.8,228.1 636.7,229.9z" fill="url(#c179)"/>
<path d="M678.4,243.4 692.2,242.3 678.4,234.7 664.5,235.4z" fill="url(#c180)"/>
<path d="M706.2,250.6 719.8,250.5 705.9,242.7 692.2,242.3z" fill="url(#c181)"/>
<path d="M733.9,259.1 747.3,260.2 733.3,252.0 719.8,250.5z" fill="url(#c182)"/>
<path d="M761.6,269.1 774.7,271.1 760.5,262.7 747.3,260.2z" fill="url(#c183)"/>
<path d="M789.1,280.4 802.0,283.5 787.7,274.7 774.7,271.1z" fill="url(#c184)"/>
<path d="M816.4,293.0 829.1,297.1 814.7,288.1 802.0,283.5z" fill="url(#c185)"/>
<path d="M843.6,306.9 855.9,312.1 841.5,302.7 829.1,297.1z" fill="url(#c186)"/>
<path d="M870.6,322.2 882.6,328.3 868.1,318.6 855.9,312.1z" fill="url(#c187)"/>
<path d="M897.3,338.7 909.1,345.7 894.5,335.7 882.6,328.3z" fill="url(#c188)"/>
<path d="M923.8,356.5 935.3,364.4 920.6,354.1 909.1,345.7z" fill="url(#c189)"/>
<path d="M412.3,255.2 427.4,242.1 415.0,236.6 399.9,249.0z" fill="url(#c190)"/>
<path d="M440.0,248.5 455.1,236.6 442.5,230.8 427.4,242.1z" fill="url(#c191)"/>
<path d="M467.9,243.2 482.9,232.5 470.1,226.4 455.1,236.6z" fill="url(#c192)"/>
<path d="M495.8,239.4 510.7,229.8 497.8,223.5 482.9,232.5z" fill="url(#c193)"/>
<path d="M523.8,236.9 538.6,228.5 525.5,221.9 510.7,229.8z" fill="url(#c194)"/>
<path d="M551.9,235.9 566.6,228.7 553.3,221.8 538.6,228.5z" fill="url(#c195)"/>
<path d="M580.0,236.3 594.5,230.2 581.1,223.1 566.6,228.7z" fill="url(#c196)"/>
<path d="M608.1,238.2 622.5,233.2 608.9,225.8 594.5,230.2z" fill="url(#c197)"/>
<path d="M636.2,241.4 650.5,237.6 636.7,229.9 622.5,233.2z" fill="url(#c198)"/>
<path d="M664.3,246.1 678.4,243.4 664.5,235.4 650.5,237.6z" fill="url(#c199)"/>
<path d="M692.4,252.2 706.2,250.6 692.2,242.3 678.4,243.4z" fill="url(#c200)"/>
<path d="M720.3,259.6 733.9,259.1 719.8,250.5 706.2,250.6z" fill="url(#c201)"/>
<path d="M748.2,268.5 761.6,269.1 747.3,260.2 733.9,259.1z" fill="url(#c202)"/>
<path d="M775.9,278.8 789.1,280.4 774.7,271.1 761.6,269.1z" fill="url(#c203)"/>
<path d="M803.5,290.4 816.4,293.0 802.0,283.5 789.1,280.4z" fill="url(#c204)"/>
<path d="M831.0,303.3 843.6,306.9 829.1,297.1 816.4,293.0z" fill="url(#c205)"/>
<path d="M858.2,317.6 870.6,322.2 855.9,312.1 843.6,306.9z" fill="url(#c206)"/>
<path d="M885.3,333.1 897.3,338.7 882.6,328.3 870.6,322.2z" fill="url(#c207)"/>
<path d="M912.1,349.9 923.8,356.5 909.1,345.7 897.3,338.7z" fill="url(#c208)"/>
<path d="M938.7,368.0 950.1,375.5 935.3,364.4 923.8,356.5z" fill="url(#c209)"/>
<path d="M424.9,262.0 440.0,248.5 427.4,242.1 412.3,255.2z" fill="url(#c210)"/>
<path d="M452.8,255.6 467.9,243.2 455.1,236.6 440.0,248.5z" fill="url(#c211)"/>
<path d="M480.8,250.6 495.8,239.4 482.9,232.5 467.9,243.2z" fill="url(#c212)"/>
<path d="M508.9,247.0 523.8,236.9 510.7,229.8 495.8,239.4z" fill="url(#c213)"/>
<path d="M537.1,244.8 551.9,235.9 538.6,228.5 523.8,236.9z" fill="url(#c214)"/>
<path d="M565.3,244.1 580.0,236.3 566.6,228.7 551.9,235.9z" fill="url(#c215)"/>
<path d="M593.6,244.8 608.1,238.2 594.5,230.2 580.0,236.3z" fill="url(#c216)"/>
<path d="M621.9,246.9 636.2,241.4 622.5,233.2 608.1,238.2z" fill="url(#c217)"/>
<path d="M650.1,250.4 664.3,246.1 650.5,237.6 636.2,241.4z" fill="url(#c218)"/>
<path d="M678.4,255.4 692.4,252.2 678.4,243.4 664.3,246.1z" fill="url(#c219)"/>
<path d="M706.5,261.8 720.3,259.6 706.2,250.6 692.4,252.2z" fill="url(#c220)"/>
<path d="M734.6,269.5 748.2,268.5 733.9,259.1 720.3,259.6z" fill="url(#c221)"/>
<path d="M762.6,278.7 775.9,278.8 761.6,269.1 748.2,268.5z" fill="url(#c222)"/>
<path d="M790.4,289.3 803.5,290.4 789.1,280.4 775.9,278.8z" fill="url(#c223)"/>
<path d="M818.1,301.2 831.0,303.3 816.4,293.0 803.5,290.4z" fill="url(#c224)"/>
<path d="M845.7,314.4 858.2,317.6 843.6,306.9 831.0,303.3z" fill="url(#c225)"/>
<path d="M873.0,329.0 885.3,333.1 870.6,322.2 858.2,317.6z" fill="url(#c226)"/>
<path d="M900.1,344.8 912.1,349.9 897.3,338.7 885.3,333.1z" fill="url(#c227)"/>
<path d="M927.0,361.9 938.7,368.0 923.8,356.5 912.1,349.9z" fill="url(#c228)"/>
<path d="M437.6,269.7 452.8,255.6 440.0,248.5 424.9,262.0z" fill="url(#c229)"/>
<path d="M465.7,263.5 480.8,250.6 467.9,243.2 452.8,255.6z" fill="url(#c230)"/>
<path d="M493.9,258.8 508.9,247.0 495.8,239.4 480.8,250.6z" fill="url(#c231)"/>
<path d="M522.2,255.4 537.1,244.8 523.8,236.9 508.9,247.0z" fill="url(#c232)"/>
<path d="M550.5,253.5 565.3,244.1 551.9,235.9 537.1,244.8z" fill="url(#c233)"/>
<path d="M578.9,253.1 593.6,244.8 580.0,236.3 565.3,244.1z" fill="url(#c234)"/>
<path d="M607.3,254.0 621.9,246.9 608.1,238.2 593.6,244.8z" fill="url(#c235)"/>
<path d="M635.8,256.4 650.1,250.4 636.2,241.4 621.9,246.9z" fill="url(#c236)"/>
<path d="M664.2,260.2 678.4,255.4 664.3,246.1 650.1,250.4z" fill="url(#c237)"/>
<path d="M692.5,265.5 706.5,261.8 692.4,252.2 678.4,255.4z" fill="url(#c238)"/>
<path d="M720.8,272.2 734.6,269.5 720.3,259.6 706.5,261.8z" fill="url(#c239)"/>
<path d="M749.0,280.2 762.6,278.7 748.2,268.5 734.6,269.5z" fill="url(#c240)"/>
<path d="M777.1,289.7 790.4,289.3 775.9,278.8 762.6,278.7z" fill="url(#c241)"/>
<path d="M805.1,300.6 818.1,301.2 803.5,290.4 790.4,289.3z" fill="url(#c242)"/>
<path d="M832.8,312.8 845.7,314.4 831.0,303.3 818.1,301.2z" fill="url(#c243)"/>
<path d="M860.5,326.3 873.0,329.0 858.2,317.6 845.7,314.4z" fill="url(#c244)"/>
<path d="M887.9,341.2 900.1,344.8 885.3,333.1 873.0,329.0z" fill="url(#c245)"/>
<path d="M915.1,357.3 927.0,361.9 912.1,349.9 900.1,344.8z" fill="url(#c246)"/>
<path d="M450.6,278.2 465.7,263.5 452.8,255.6 437.6,269.7z" fill="url(#c247)"/>
<path d="M478.8,272.3 493.9,258.8 480.8,250.6 465.7,263.5z" fill="url(#c248)"/>
<path d="M507.2,267.7 522.2,255.4 508.9,247.0 493.9,258.8z" fill="url(#c249)"/>
<path d="M535.6,264.7 550.5,253.5 537.1,244.8 522.2,255.4z" fill="url(#c250)"/>
<path d="M564.1,263.0 578.9,253.1 565.3,244.1 550.5,253.5z" fill="url(#c251)"/>
<path d="M592.7,262.8 607.3,254.0 593.6,244.8 578.9,253.1z" fill="url(#c252)"/>
<path d="M621.3,264.1 635.8,256.4 621.9,246.9 607.3,254.0z" fill="url(#c253)"/>
<path d="M649.8,266.8 664.2,260.2 650.1,250.4 635.8,256.4z" fill="url(#c254)"/>
<path d="M678.4,270.9 692.5,265.5 678.4,255.4 664.2,260.2z" fill="url(#c255)"/>
<path d="M706.8,276.4 720.8,272.2 706.5,261.8 692.5,265.5z" fill="url(#c256)"/>
<path d="M735.3,283.4 749.0,280.2 734.6,269.5 720.8,272.2z" fill="url(#c257)"/>
<path d="M763.6,291.8 777.1,289.7 762.6,278.7 749.0,280.2z" fill="url(#c258)"/>
<path d="M791.8,301.5 805.1,300.6 790.4,289.3 777.1,289.7z" fill="url(#c259)"/>
<path d="M819.8,312.7 832.8,312.8 818.1,301.2 805.1,300.6z" fill="url(#c260)"/>
<path d="M847.7,325.2 860.5,326.3 845.7,314.4 832.8,312.8z" fill="url(#c261)"/>
<path d="M875.4,339.0 887.9,341.2 873.0,329.0 860.5,326.3z" fill="url(#c262)"/>
<path d="M902.9,354.2 915.1,357.3 900.1,344.8 887.9,341.2z" fill="url(#c263)"/>
<path d="M463.6,287.5 478.8,272.3 465.7,263.5 450.6,278.2z" fill="url(#c264)"/>
<path d="M492.1,281.8 507.2,267.7 493.9,258.8 478.8,272.3z" fill="url(#c265)"/>
<path d="M520.6,277.5 535.6,264.7 522.2,255.4 507.2,267.7z" fill="url(#c266)"/>
<path d="M549.2,274.7 564.1,263.0 550.5,253.5 535.6,264.7z" fill="url(#c267)"/>
<path d="M577.9,273.4 592.7,262.8 578.9,253.1 564.1,263.0z" fill="url(#c268)"/>
<path d="M606.6,273.5 621.3,264.1 607.3,254.0 592.7,262.8z" fill="url(#c269)"/>
<path d="M635.3,275.0 649.8,266.8 635.8,256.4 621.3,264.1z" fill="url(#c270)"/>
<path d="M664.0,277.9 678.4,270.9 664.2,260.2 649.8,266.8z" fill="url(#c271)"/>
<path d="M692.7,282.4 706.8,276.4 692.5,265.5 678.4,270.9z" fill="url(#c272)"/>
<path d="M721.3,288.2 735.3,283.4 720.8,272.2 706.8,276.4z" fill="url(#c273)"/>
<path d="M749.8,295.4 763.6,291.8 749.0,280.2 735.3,283.4z" fill="url(#c274)"/>
<path d="M778.2,304.1 791.8,301.5 777.1,289.7 763.6,291.8z" fill="url(#c275)"/>
<path d="M806.5,314.2 819.8,312.7 805.1,300.6 791.8,301.5z" fill="url(#c276)"/>
<path d="M834.7,325.6 847.7,325.2 832.8,312.8 819.8,312.7z" fill="url(#c277)"/>
<path d="M862.6,338.4 875.4,339.0 860.5,326.3 847.7,325.2z" fill="url(#c278)"/>
<path d="M890.4,352.6 902.9,354.2 887.9,341.2 875.4,339.0z" fill="url(#c279)"/>
<path d="M476.9,297.6 492.1,281.8 478.8,272.3 463.6,287.5z" fill="url(#c280)"/>
<path d="M505.5,292.1 520.6,277.5 507.2,267.7 492.1,281.8z" fill="url(#c281)"/>
<path d="M534.2,288.2 549.2,274.7 535.6,264.7 520.6,277.5z" fill="url(#c282)"/>
<path d="M563.0,285.6 577.9,273.4 564.1,263.0 549.2,274.7z" fill="url(#c283)"/>
<path d="M591.8,284.5 606.6,273.5 592.7,262.8 577.9,273.4z" fill="url(#c284)"/>
<path d="M620.7,284.9 635.3,275.0 621.3,264.1 606.6,273.5z" fill="url(#c285)"/>
<path d="M649.5,286.7 664.0,277.9 649.8,266.8 635.3,275.0z" fill="url(#c286)"/>
<path d="M678.4,290.0 692.7,282.4 678.4,270.9 664.0,277.9z" fill="url(#c287)"/>
<path d="M707.2,294.7 721.3,288.2 706.8,276.4 692.7,282.4z" fill="url(#c288)"/>
<path d="M735.9,300.8 749.8,295.4 735.3,283.4 721.3,288.2z" fill="url(#c289)"/>
<path d="M764.5,308.3 778.2,304.1 763.6,291.8 749.8,295.4z" fill="url(#c290)"/>
<path d="M793.0,317.3 806.5,314.2 791.8,301.5 778.2,304.1z" fill="url(#c291)"/>
<path d="M821.4,327.6 834.7,325.6 819.8,312.7 806.5,314.2z" fill="url(#c292)"/>
<path d="M849.7,339.4 862.6,338.4 847.7,325.2 834.7,325.6z" fill="url(#c293)"/>
<path d="M877.7,352.5 890.4,352.6 875.4,339.0 862.6,338.4z" fill="url(#c294)"/>
<path d="M490.3,308.5 505.5,292.1 492.1,281.8 476.9,297.6z" fill="url(#c295)"/>
<path d="M519.1,303.3 534.2,288.2 520.6,277.5 505.5,292.1z" fill="url(#c296)"/>
<path d="M548.0,299.6 563.0,285.6 549.2,274.7 534.2,288.2z" fill="url(#c297)"/>
<path d="M576.9,297.4 591.8,284.5 577.9,273.4 563.0,285.6z" fill="url(#c298)"/>
<path d="M605.9,296.5 620.7,284.9 606.6,273.5 591.8,284.5z" fill="url(#c299)"/>
<path d="M634.9,297.2 649.5,286.7 635.3,275.0 620.7,284.9z" fill="url(#c300)"/>
<path d="M663.9,299.3 678.4,290.0 664.0,277.9 649.5,286.7z" fill="url(#c301)"/>
<path d="M692.8,302.8 707.2,294.7 692.7,282.4 678.4,290.0z" fill="url(#c302)"/>
<path d="M721.8,307.8 735.9,300.8 721.3,288.2 707.2,294.7z" fill="url(#c303)"/>
<path d="M750.6,314.2 764.5,308.3 749.8,295.4 735.9,300.8z" fill="url(#c304)"/>
<path d="M779.3,322.1 793.0,317.3 778.2,304.1 764.5,308.3z" fill="url(#c305)"/>
<path d="M808.0,331.3 821.4,327.6 806.5,314.2 793.0,317.3z" fill="url(#c306)"/>
<path d="M836.4,342.0 849.7,339.4 834.7,325.6 821.4,327.6z" fill="url(#c307)"/>
<path d="M864.8,354.0 877.7,352.5 862.6,338.4 849.7,339.4z" fill="url(#c308)"/>
<path d="M503.9,320.3 519.1,303.3 505.5,292.1 490.3,308.5z" fill="url(#c309)"/>
<path d="M532.9,315.4 548.0,299.6 534.2,288.2 519.1,303.3z" fill="url(#c310)"/>
<path d="M561.9,311.9 576.9,297.4 563.0,285.6 548.0,299.6z" fill="url(#c311)"/>
<path d="M591.0,309.9 605.9,296.5 591.8,284.5 576.9,297.4z" fill="url(#c312)"/>
<path d="M620.1,309.4 634.9,297.2 620.7,284.9 605.9,296.5z" fill="url(#c313)"/>
<path d="M649.2,310.3 663.9,299.3 649.5,286.7 634.9,297.2z" fill="url(#c314)"/>
<path d="M678.4,312.7 692.8,302.8 678.4,290.0 663.9,299.3z" fill="url(#c315)"/>
<path d="M707.5,316.5 721.8,307.8 707.2,294.7 692.8,302.8z" fill="url(#c316)"/>
<path d="M736.5,321.8 750.6,314.2 735.9,300.8 721.8,307.8z" fill="url(#c317)"/>
<path d="M765.4,328.5 779.3,322.1 764.5,308.3 750.6,314.2z" fill="url(#c318)"/>
<path d="M794.3,336.6 808.0,331.3 793.0,317.3 779.3,322.1z" fill="url(#c319)"/>
<path d="M823.0,346.2 836.4,342.0 821.4,327.6 808.0,331.3z" fill="url(#c320)"/>
<path d="M851.6,357.1 864.8,354.0 849.7,339.4 836.4,342.0z" fill="url(#c321)"/>
<path d="M517.7,332.9 532.9,315.4 519.1,303.3 503.9,320.3z" fill="url(#c322)"/>
<path d="M546.8,328.2 561.9,311.9 548.0,299.6 532.9,315.4z" fill="url(#c323)"/>
<path d="M575.9,325.1 591.0,309.9 576.9,297.4 561.9,311.9z" fill="url(#c324)"/>
<path d="M605.2,323.3 620.1,309.4 605.9,296.5 591.0,309.9z" fill="url(#c325)"/>
<path d="M634.5,323.1 649.2,310.3 634.9,297.2 620.1,309.4z" fill="url(#c326)"/>
<path d="M663.7,324.3 678.4,312.7 663.9,299.3 649.2,310.3z" fill="url(#c327)"/>
<path d="M693.0,326.9 707.5,316.5 692.8,302.8 678.4,312.7z" fill="url(#c328)"/>
<path d="M722.2,331.1 736.5,321.8 721.8,307.8 707.5,316.5z" fill="url(#c329)"/>
<path d="M751.4,336.6 765.4,328.5 750.6,314.2 736.5,321.8z" fill="url(#c330)"/>
<path d="M780.4,343.6 794.3,336.6 779.3,322.1 765.4,328.5z" fill="url(#c331)"/>
<path d="M809.4,352.0 823.0,346.2 808.0,331.3 794.3,336.6z" fill="url(#c332)"/>
<path d="M838.2,361.9 851.6,357.1 836.4,342.0 823.0,346.2z" fill="url(#c333)"/>
<path d="M531.6,346.3 546.8,328.2 532.9,315.4 517.7,332.9z" fill="url(#c334)"/>
<path d="M560.8,342.0 575.9,325.1 561.9,311.9 546.8,328.2z" fill="url(#c335)"/>
<path d="M590.2,339.1 605.2,323.3 591.0,309.9 575.9,325.1z" fill="url(#c336)"/>
<path d="M619.5,337.6 634.5,323.1 620.1,309.4 605.2,323.3z" fill="url(#c337)"/>
<path d="M649.0,337.6 663.7,324.3 649.2,310.3 634.5,323.1z" fill="url(#c338)"/>
<path d="M678.4,339.1 693.0,326.9 678.4,312.7 663.7,324.3z" fill="url(#c339)"/>
<path d="M707.7,342.1 722.2,331.1 707.5,316.5 693.0,326.9z" fill="url(#c340)"/>
<path d="M737.1,346.5 751.4,336.6 736.5,321.8 722.2,331.1z" fill="url(#c341)"/>
<path d="M766.3,352.3 780.4,343.6 765.4,328.5 751.4,336.6z" fill="url(#c342)"/>
<path d="M795.5,359.6 809.4,352.0 794.3,336.6 780.4,343.6z" fill="url(#c343)"/>
<path d="M824.5,368.3 838.2,361.9 823.0,346.2 809.4,352.0z" fill="url(#c344)"/>
<path d="M545.6,360.6 560.8,342.0 546.8,328.2 531.6,346.3z" fill="url(#c345)"/>
<path d="M575.0,356.5 590.2,339.1 575.9,325.1 560.8,342.0z" fill="url(#c346)"/>
<path d="M604.5,353.9 619.5,337.6 605.2,323.3 590.2,339.1z" fill="url(#c347)"/>
<path d="M634.0,352.8 649.0,337.6 634.5,323.1 619.5,337.6z" fill="url(#c348)"/>
<path d="M663.6,353.1 678.4,339.1 663.7,324.3 649.0,337.6z" fill="url(#c349)"/>
<path d="M693.1,354.8 707.7,342.1 693.0,326.9 678.4,339.1z" fill="url(#c350)"/>
<path d="M722.6,358.1 737.1,346.5 722.2,331.1 707.7,342.1z" fill="url(#c351)"/>
<path d="M752.1,362.7 766.3,352.3 751.4,336.6 737.1,346.5z" fill="url(#c352)"/>
<path d="M781.4,368.9 795.5,359.6 780.4,343.6 766.3,352.3z" fill="url(#c353)"/>
<path d="M810.7,376.4 824.5,368.3 809.4,352.0 795.5,359.6z" fill="url(#c354)"/>
<path d="M559.8,375.8 575.0,356.5 560.8,342.0 545.6,360.6z" fill="url(#c355)"/>
<path d="M589.4,372.0 604.5,353.9 590.2,339.1 575.0,356.5z" fill="url(#c356)"/>
<path d="M619.0,369.6 634.0,352.8 619.5,337.6 604.5,353.9z" fill="url(#c357)"/>
<path d="M648.7,368.8 663.6,353.1 649.0,337.6 634.0,352.8z" fill="url(#c358)"/>
<path d="M678.4,369.4 693.1,354.8 678.4,339.1 663.6,353.1z" fill="url(#c359)"/>
<path d="M708.0,371.4 722.6,358.1 707.7,342.1 693.1,354.8z" fill="url(#c360)"/>
<path d="M737.6,374.9 752.1,362.7 737.1,346.5 722.6,358.1z" fill="url(#c361)"/>
<path d="M767.2,379.9 781.4,368.9 766.3,352.3 752.1,362.7z" fill="url(#c362)"/>
<path d="M796.6,386.3 810.7,376.4 795.5,359.6 781.4,368.9z" fill="url(#c363)"/>
<path d="M574.2,391.9 589.4,372.0 575.0,356.5 559.8,375.8z" fill="url(#c364)"/>
<path d="M603.9,388.3 619.0,369.6 604.5,353.9 589.4,372.0z" fill="url(#c365)"/>
<path d="M633.7,386.2 648.7,368.8 634.0,352.8 619.0,369.6z" fill="url(#c366)"/>
<path d="M663.5,385.6 678.4,369.4 663.6,353.1 648.7,368.8z" fill="url(#c367)"/>
<path d="M693.3,386.5 708.0,371.4 693.1,354.8 678.4,369.4z" fill="url(#c368)"/>
<path d="M723.0,388.8 737.6,374.9 722.6,358.1 708.0,371.4z" fill="url(#c369)"/>
<path d="M752.8,392.6 767.2,379.9 752.1,362.7 737.6,374.9z" fill="url(#c370)"/>
<path d="M782.4,397.9 796.6,386.3 781.4,368.9 767.2,379.9z" fill="url(#c371)"/>
<path d="M588.7,408.8 603.9,388.3 589.4,372.0 574.2,391.9z" fill="url(#c372)"/>
<path d="M618.5,405.5 633.7,386.2 619.0,369.6 603.9,388.3z" fill="url(#c373)"/>
<path d="M648.4,403.7 663.5,385.6 648.7,368.8 633.7,386.2z" fill="url(#c374)"/>
<path d="M678.4,403.4 693.3,386.5 678.4,369.4 663.5,385.6z" fill="url(#c375)"/>
<path d="M708.3,404.6 723.0,388.8 708.0,371.4 693.3,386.5z" fill="url(#c376)"/>
<path d="M738.2,407.2 752.8,392.6 737.6,374.9 723.0,388.8z" fill="url(#c377)"/>
<path d="M768.0,411.2 782.4,397.9 767.2,379.9 752.8,392.6z" fill="url(#c378)"/>
<path d="M603.3,426.6 618.5,405.5 603.9,388.3 588.7,408.8z" fill="url(#c379)"/>
<path d="M633.3,423.6 648.4,403.7 633.7,386.2 618.5,405.5z" fill="url(#c380)"/>
<path d="M663.3,422.1 678.4,403.4 663.5,385.6 648.4,403.7z" fill="url(#c381)"/>
<path d="M693.4,422.0 708.3,404.6 693.3,386.5 678.4,403.4z" fill="url(#c382)"/>
<path d="M723.4,423.5 738.2,407.2 723.0,388.8 708.3,404.6z" fill="url(#c383)"/>
<path d="M753.4,426.4 768.0,411.2 752.8,392.6 738.2,407.2z" fill="url(#c384)"/>
<path d="M618.1,445.2 633.3,423.6 618.5,405.5 603.3,426.6z" fill="url(#c385)"/>
<path d="M648.2,442.5 663.3,422.1 648.4,403.7 633.3,423.6z" fill="url(#c386)"/>
<path d="M678.4,441.3 693.4,422.0 678.4,403.4 663.3,422.1z" fill="url(#c387)"/>
<path d="M708.5,441.6 723.4,423.5 708.3,404.6 693.4,422.0z" fill="url(#c388)"/>
<path d="M738.7,443.3 753.4,426.4 738.2,407.2 723.4,423.5z" fill="url(#c389)"/>
<path d="M633.0,464.8 648.2,442.5 633.3,423.6 618.1,445.2z" fill="url(#c390)"/>
<path d="M663.2,462.4 678.4,441.3 663.3,422.1 648.2,442.5z" fill="url(#c391)"/>
<path d="M693.5,461.4 708.5,441.6 693.4,422.0 678.4,441.3z" fill="url(#c392)"/>
<path d="M723.8,462.0 738.7,443.3 723.4,423.5 708.5,441.6z" fill="url(#c393)"/>
<path d="M648.0,485.2 663.2,462.4 648.2,442.5 633.0,464.8z" fill="url(#c394)"/>
<path d="M678.4,483.1 693.5,461.4 678.4,441.3 663.2,462.4z" fill="url(#c395)"/>
<path d="M708.8,482.4 723.8,462.0 708.5,441.6 693.5,461.4z" fill="url(#c396)"/>
<path d="M663.1,506.6 678.4,483.1 663.2,462.4 648.0,485.2z" fill="url(#c397)"/>
<path d="M693.6,504.7 708.8,482.4 693.5,461.4 678.4,483.1z" fill="url(#c398)"/>
<path d="M678.4,528.8 693.6,504.7 678.4,483.1 663.1,506.6z" fill="url(#c399)"/>
</g>
<line x1="678.3" y1="229.4" x2="678.3" y2="240.6" stroke="#3a0a0a" stroke-width="1"/>
<circle cx="678.3" cy="229.4" r="5.4" fill="#c00000" stroke="#700000" stroke-width="1"/>
<circle cx="531.5" cy="338.5" r="5.4" fill="#c00000" stroke="#700000" stroke-width="1"/>
<circle cx="950.8" cy="362.9" r="5.4" fill="#c00000" stroke="#700000" stroke-width="1"/>
<text class="lg" x="3" y="17.1" textLength="168.5" lengthAdjust="spacingAndGlyphs">Factor Coding: Actual</text>
<text class="lg" x="3.3" y="74.7" textLength="34.6" lengthAdjust="spacingAndGlyphs" font-weight="bold">TPN</text>
<text class="lg" x="2.6" y="103.7" textLength="111.8" lengthAdjust="spacingAndGlyphs">Design Points:</text>
<text class="lg" x="40.8" y="131.1" textLength="114" lengthAdjust="spacingAndGlyphs" style="fill:#c81e1e;stroke:#c81e1e">Above Surface</text>
<text class="lg" x="40.2" y="160.7" textLength="111.8" lengthAdjust="spacingAndGlyphs" style="fill:#c81e1e;stroke:#c81e1e">Below Surface</text>
<text class="lg" x="2.5" y="189.4" textLength="39.2" lengthAdjust="spacingAndGlyphs" style="fill:#2a2aff;stroke:#2a2aff">7216</text>
<text class="lg" x="129.5" y="189.4" textLength="48.4" lengthAdjust="spacingAndGlyphs" style="fill:#ff2a2a;stroke:#ff2a2a">34972</text>
<text class="lg" x="2.6" y="246.9" textLength="54.4" lengthAdjust="spacingAndGlyphs">X1 = A</text>
<text class="lg" x="2.6" y="275.2" textLength="53.6" lengthAdjust="spacingAndGlyphs">X2 = B</text>
<text class="" x="662.8" y="29" textLength="123" lengthAdjust="spacingAndGlyphs" style="font-size:22.5px">3D Surface</text>
<text class="ax" x="359.4" y="667.2" textLength="170.4" lengthAdjust="spacingAndGlyphs">B: Injection Volume  (µL)</text>
<text class="ax" x="831" y="666.8" textLength="158.6" lengthAdjust="spacingAndGlyphs">A: Flow Rate  (mL/Min)</text>
<text class="ax" transform="translate(315.4,392.4) rotate(-90)" textLength="27.4" lengthAdjust="spacingAndGlyphs">TPN</text>
<text class="tk" x="389.5" y="188.3" text-anchor="end">40000</text>
<text class="tk" x="392.7" y="257.1" text-anchor="end">30000</text>
<text class="tk" x="395.9" y="326.1" text-anchor="end">20000</text>
<text class="tk" x="399.7" y="394.6" text-anchor="end">10000</text>
<text class="tk" x="402.4" y="463.4" text-anchor="end">0</text>
<text class="tk" x="407.5" y="566.7" text-anchor="end">100</text>
<text class="tk" x="474.2" y="598.6" text-anchor="end">80</text>
<text class="tk" x="540" y="630.9" text-anchor="end">60</text>
<text class="tk" x="606.4" y="662.1" text-anchor="end">40</text>
<text class="tk" x="672.8" y="692.4" text-anchor="end">20</text>
<text class="tk" x="687.0" y="693.4">0.5</text>
<text class="tk" x="738.3" y="667.6">0.7</text>
<text class="tk" x="791.2" y="642.6">0.9</text>
<text class="tk" x="844.8" y="617.5">1.1</text>
<text class="tk" x="897.8" y="592.4">1.3</text>
<text class="tk" x="951.5" y="567.1">1.5</text>
</svg>
</body></html>
